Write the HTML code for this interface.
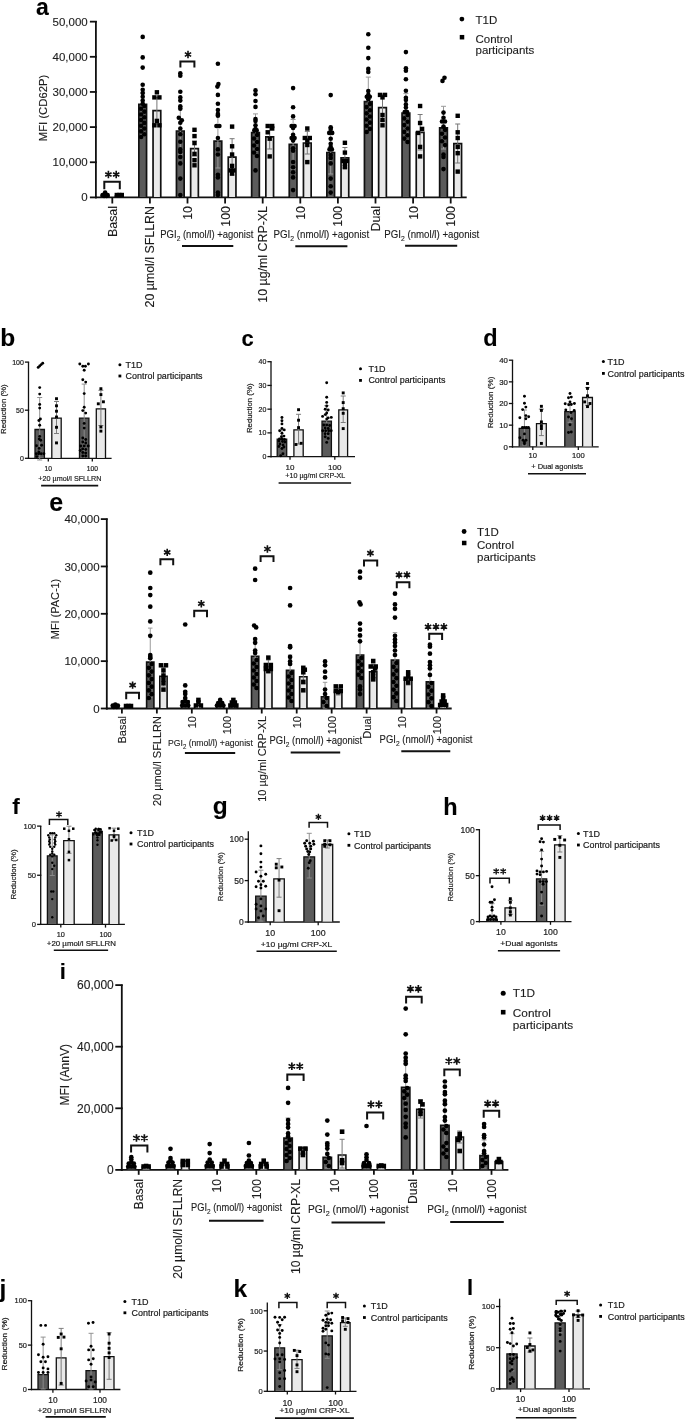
<!DOCTYPE html>
<html><head><meta charset="utf-8"><style>
html,body{margin:0;padding:0;background:#fff;}
svg{display:block;font-family:"Liberation Sans",sans-serif;filter:grayscale(1);}
text{stroke:#1c1c1c;stroke-width:0.12px;}
text.s{stroke-width:0.2px;}
</style></head><body>
<svg width="685" height="1419" viewBox="0 0 685 1419">
<rect width="685" height="1419" fill="#fff"/>
<text x="36" y="14.8" font-size="23" font-weight="bold" fill="#000">a</text>
<line x1="95.9" y1="21" x2="95.9" y2="198.3" stroke="#111" stroke-width="1.8"/>
<line x1="95" y1="197.4" x2="466.7" y2="197.4" stroke="#111" stroke-width="1.8"/>
<line x1="89.9" y1="197.4" x2="96.8" y2="197.4" stroke="#111" stroke-width="1.8"/>
<text x="87.7" y="201.48" font-size="11.5" text-anchor="end" fill="#1c1c1c">0</text>
<line x1="89.9" y1="162.25" x2="96.8" y2="162.25" stroke="#111" stroke-width="1.8"/>
<text x="87.7" y="166.33" font-size="11.5" text-anchor="end" fill="#1c1c1c">10,000</text>
<line x1="89.9" y1="127.1" x2="96.8" y2="127.1" stroke="#111" stroke-width="1.8"/>
<text x="87.7" y="131.18" font-size="11.5" text-anchor="end" fill="#1c1c1c">20,000</text>
<line x1="89.9" y1="91.95" x2="96.8" y2="91.95" stroke="#111" stroke-width="1.8"/>
<text x="87.7" y="96.03" font-size="11.5" text-anchor="end" fill="#1c1c1c">30,000</text>
<line x1="89.9" y1="56.8" x2="96.8" y2="56.8" stroke="#111" stroke-width="1.8"/>
<text x="87.7" y="60.88" font-size="11.5" text-anchor="end" fill="#1c1c1c">40,000</text>
<line x1="89.9" y1="21.65" x2="96.8" y2="21.65" stroke="#111" stroke-width="1.8"/>
<text x="87.7" y="25.73" font-size="11.5" text-anchor="end" fill="#1c1c1c">50,000</text>
<text transform="translate(47.2,108) rotate(-90)" font-size="11.5" text-anchor="middle" textLength="66.5" lengthAdjust="spacingAndGlyphs" fill="#1c1c1c">MFI (CD62P)</text>
<line x1="112.3" y1="197.4" x2="112.3" y2="203.5" stroke="#111" stroke-width="1.8"/>
<line x1="149.9" y1="197.4" x2="149.9" y2="203.5" stroke="#111" stroke-width="1.8"/>
<line x1="187.5" y1="197.4" x2="187.5" y2="203.5" stroke="#111" stroke-width="1.8"/>
<line x1="225.1" y1="197.4" x2="225.1" y2="203.5" stroke="#111" stroke-width="1.8"/>
<line x1="262.7" y1="197.4" x2="262.7" y2="203.5" stroke="#111" stroke-width="1.8"/>
<line x1="300.3" y1="197.4" x2="300.3" y2="203.5" stroke="#111" stroke-width="1.8"/>
<line x1="337.9" y1="197.4" x2="337.9" y2="203.5" stroke="#111" stroke-width="1.8"/>
<line x1="375.5" y1="197.4" x2="375.5" y2="203.5" stroke="#111" stroke-width="1.8"/>
<line x1="413.1" y1="197.4" x2="413.1" y2="203.5" stroke="#111" stroke-width="1.8"/>
<line x1="450.7" y1="197.4" x2="450.7" y2="203.5" stroke="#111" stroke-width="1.8"/>
<rect x="101.25" y="195.5" width="7.7" height="1.45" fill="#5b5b5b"/>
<path d="M101.25 197.1V195.5H108.95V197.1" fill="none" stroke="#111" stroke-width="1.7"/>
<rect x="115.45" y="196" width="7.7" height="0.95" fill="#e9e9e9"/>
<path d="M115.45 197.1V196H123.15V197.1" fill="none" stroke="#111" stroke-width="1.7"/>
<rect x="138.85" y="104.4" width="7.7" height="92.55" fill="#5b5b5b"/>
<path d="M138.85 197.1V104.4H146.55V197.1" fill="none" stroke="#111" stroke-width="1.7"/>
<rect x="153.05" y="110.6" width="7.7" height="86.35" fill="#e9e9e9"/>
<path d="M153.05 197.1V110.6H160.75V197.1" fill="none" stroke="#111" stroke-width="1.7"/>
<rect x="176.45" y="131" width="7.7" height="65.95" fill="#5b5b5b"/>
<path d="M176.45 197.1V131H184.15V197.1" fill="none" stroke="#111" stroke-width="1.7"/>
<rect x="190.65" y="148.7" width="7.7" height="48.25" fill="#e9e9e9"/>
<path d="M190.65 197.1V148.7H198.35V197.1" fill="none" stroke="#111" stroke-width="1.7"/>
<rect x="214.05" y="141.2" width="7.7" height="55.75" fill="#5b5b5b"/>
<path d="M214.05 197.1V141.2H221.75V197.1" fill="none" stroke="#111" stroke-width="1.7"/>
<rect x="228.25" y="157.1" width="7.7" height="39.85" fill="#e9e9e9"/>
<path d="M228.25 197.1V157.1H235.95V197.1" fill="none" stroke="#111" stroke-width="1.7"/>
<rect x="251.65" y="132.6" width="7.7" height="64.35" fill="#5b5b5b"/>
<path d="M251.65 197.1V132.6H259.35V197.1" fill="none" stroke="#111" stroke-width="1.7"/>
<rect x="265.85" y="136.8" width="7.7" height="60.15" fill="#e9e9e9"/>
<path d="M265.85 197.1V136.8H273.55V197.1" fill="none" stroke="#111" stroke-width="1.7"/>
<rect x="289.25" y="144.3" width="7.7" height="52.65" fill="#5b5b5b"/>
<path d="M289.25 197.1V144.3H296.95V197.1" fill="none" stroke="#111" stroke-width="1.7"/>
<rect x="303.45" y="143" width="7.7" height="53.95" fill="#e9e9e9"/>
<path d="M303.45 197.1V143H311.15V197.1" fill="none" stroke="#111" stroke-width="1.7"/>
<rect x="326.85" y="152.5" width="7.7" height="44.45" fill="#5b5b5b"/>
<path d="M326.85 197.1V152.5H334.55V197.1" fill="none" stroke="#111" stroke-width="1.7"/>
<rect x="341.05" y="157.8" width="7.7" height="39.15" fill="#e9e9e9"/>
<path d="M341.05 197.1V157.8H348.75V197.1" fill="none" stroke="#111" stroke-width="1.7"/>
<rect x="364.45" y="101.7" width="7.7" height="95.25" fill="#5b5b5b"/>
<path d="M364.45 197.1V101.7H372.15V197.1" fill="none" stroke="#111" stroke-width="1.7"/>
<rect x="378.65" y="107.6" width="7.7" height="89.35" fill="#e9e9e9"/>
<path d="M378.65 197.1V107.6H386.35V197.1" fill="none" stroke="#111" stroke-width="1.7"/>
<rect x="402.05" y="113.2" width="7.7" height="83.75" fill="#5b5b5b"/>
<path d="M402.05 197.1V113.2H409.75V197.1" fill="none" stroke="#111" stroke-width="1.7"/>
<rect x="416.25" y="132.4" width="7.7" height="64.55" fill="#e9e9e9"/>
<path d="M416.25 197.1V132.4H423.95V197.1" fill="none" stroke="#111" stroke-width="1.7"/>
<rect x="439.65" y="127.9" width="7.7" height="69.05" fill="#5b5b5b"/>
<path d="M439.65 197.1V127.9H447.35V197.1" fill="none" stroke="#111" stroke-width="1.7"/>
<rect x="453.85" y="143.6" width="7.7" height="53.35" fill="#e9e9e9"/>
<path d="M453.85 197.1V143.6H461.55V197.1" fill="none" stroke="#111" stroke-width="1.7"/>
<path d="M142.7 116V93M140.2 93H145.2M140.2 116H145.2" stroke="#9a9a9a" stroke-width="1" fill="none"/>
<path d="M156.9 124V97.4M154.4 97.4H159.4M154.4 124H159.4" stroke="#777777" stroke-width="1" fill="none"/>
<path d="M180.3 154V108M177.8 108H182.8M177.8 154H182.8" stroke="#9a9a9a" stroke-width="1" fill="none"/>
<path d="M194.5 156V141M192 141H197M192 156H197" stroke="#777777" stroke-width="1" fill="none"/>
<path d="M217.9 168V115M215.4 115H220.4M215.4 168H220.4" stroke="#9a9a9a" stroke-width="1" fill="none"/>
<path d="M232.1 175V138.7M229.6 138.7H234.6M229.6 175H234.6" stroke="#777777" stroke-width="1" fill="none"/>
<path d="M255.5 151V113.9M253 113.9H258M253 151H258" stroke="#9a9a9a" stroke-width="1" fill="none"/>
<path d="M269.7 149V124.7M267.2 124.7H272.2M267.2 149H272.2" stroke="#777777" stroke-width="1" fill="none"/>
<path d="M293.1 169V119.5M290.6 119.5H295.6M290.6 169H295.6" stroke="#9a9a9a" stroke-width="1" fill="none"/>
<path d="M307.3 154V131.4M304.8 131.4H309.8M304.8 154H309.8" stroke="#777777" stroke-width="1" fill="none"/>
<path d="M330.7 174V131M328.2 131H333.2M328.2 174H333.2" stroke="#9a9a9a" stroke-width="1" fill="none"/>
<path d="M344.9 168V147.5M342.4 147.5H347.4M342.4 168H347.4" stroke="#777777" stroke-width="1" fill="none"/>
<path d="M368.3 126V77.1M365.8 77.1H370.8M365.8 126H370.8" stroke="#9a9a9a" stroke-width="1" fill="none"/>
<path d="M382.5 121V94M380 94H385M380 121H385" stroke="#777777" stroke-width="1" fill="none"/>
<path d="M405.9 133V93.6M403.4 93.6H408.4M403.4 133H408.4" stroke="#9a9a9a" stroke-width="1" fill="none"/>
<path d="M420.1 150V114.5M417.6 114.5H422.6M417.6 150H422.6" stroke="#777777" stroke-width="1" fill="none"/>
<path d="M443.5 149V106.3M441 106.3H446M441 149H446" stroke="#9a9a9a" stroke-width="1" fill="none"/>
<path d="M457.7 163V124M455.2 124H460.2M455.2 163H460.2" stroke="#777777" stroke-width="1" fill="none"/>
<circle cx="102.6" cy="195" r="2.3"/>
<circle cx="105.1" cy="194" r="2.3"/>
<circle cx="107.6" cy="195" r="2.3"/>
<circle cx="105.1" cy="192.5" r="2.3"/>
<circle cx="104.1" cy="196" r="2.3"/>
<circle cx="106.6" cy="196" r="2.3"/>
<rect x="114.6" y="192.8" width="4.4" height="4.4"/>
<rect x="117.1" y="192.8" width="4.4" height="4.4"/>
<rect x="119.6" y="192.8" width="4.4" height="4.4"/>
<circle cx="142.7" cy="36.9" r="2.3"/>
<circle cx="142.7" cy="57.4" r="2.3"/>
<circle cx="142.7" cy="67.6" r="2.3"/>
<circle cx="142.7" cy="84.7" r="2.3"/>
<circle cx="142.7" cy="89.8" r="2.3"/>
<circle cx="142.7" cy="93" r="2.3"/>
<circle cx="142.7" cy="96.8" r="2.3"/>
<circle cx="142.7" cy="100.6" r="2.3"/>
<circle cx="142.7" cy="103.8" r="2.3"/>
<circle cx="144.3" cy="106" r="2.3"/>
<circle cx="141.1" cy="108.82" r="2.3"/>
<circle cx="144.3" cy="111.64" r="2.3"/>
<circle cx="141.1" cy="114.45" r="2.3"/>
<circle cx="144.3" cy="117.27" r="2.3"/>
<circle cx="141.1" cy="120.09" r="2.3"/>
<circle cx="144.3" cy="122.91" r="2.3"/>
<circle cx="141.1" cy="125.73" r="2.3"/>
<circle cx="144.3" cy="128.55" r="2.3"/>
<circle cx="141.1" cy="131.36" r="2.3"/>
<circle cx="144.3" cy="134.18" r="2.3"/>
<circle cx="141.1" cy="137" r="2.3"/>
<rect x="154.7" y="90.1" width="4.4" height="4.4"/>
<rect x="152.2" y="95.2" width="4.4" height="4.4"/>
<rect x="157.2" y="95.2" width="4.4" height="4.4"/>
<rect x="154.7" y="118.7" width="4.4" height="4.4"/>
<rect x="152.2" y="123.1" width="4.4" height="4.4"/>
<rect x="157.2" y="123.1" width="4.4" height="4.4"/>
<circle cx="180.3" cy="73.3" r="2.3"/>
<circle cx="180.3" cy="75.8" r="2.3"/>
<circle cx="180.3" cy="91.7" r="2.3"/>
<circle cx="180.3" cy="97.4" r="2.3"/>
<circle cx="180.3" cy="100.6" r="2.3"/>
<circle cx="180.3" cy="106.3" r="2.3"/>
<circle cx="180.3" cy="108.8" r="2.3"/>
<circle cx="178.8" cy="117.7" r="2.3"/>
<circle cx="181.8" cy="120.3" r="2.3"/>
<circle cx="180.3" cy="122.8" r="2.3"/>
<circle cx="180.3" cy="128.5" r="2.3"/>
<circle cx="180.3" cy="134.2" r="2.3"/>
<circle cx="180.3" cy="141.8" r="2.3"/>
<circle cx="180.3" cy="149.4" r="2.3"/>
<circle cx="180.3" cy="152" r="2.3"/>
<circle cx="180.3" cy="157" r="2.3"/>
<circle cx="180.3" cy="163.4" r="2.3"/>
<circle cx="180.3" cy="178.6" r="2.3"/>
<circle cx="180.3" cy="195.1" r="2.3"/>
<rect x="192.3" y="127.6" width="4.4" height="4.4"/>
<rect x="192.3" y="133.9" width="4.4" height="4.4"/>
<rect x="192.3" y="140.9" width="4.4" height="4.4"/>
<rect x="192.3" y="151.7" width="4.4" height="4.4"/>
<rect x="192.3" y="158" width="4.4" height="4.4"/>
<rect x="192.3" y="163.1" width="4.4" height="4.4"/>
<circle cx="217.9" cy="63.8" r="2.3"/>
<circle cx="218.4" cy="84.1" r="2.3"/>
<circle cx="217.4" cy="86.6" r="2.3"/>
<circle cx="217.9" cy="94.9" r="2.3"/>
<circle cx="217.9" cy="103.8" r="2.3"/>
<circle cx="217.9" cy="110.1" r="2.3"/>
<circle cx="217.9" cy="113.9" r="2.3"/>
<circle cx="217.9" cy="115.8" r="2.3"/>
<circle cx="216.4" cy="126" r="2.3"/>
<circle cx="219.4" cy="126" r="2.3"/>
<circle cx="217.9" cy="138" r="2.3"/>
<circle cx="217.9" cy="149.4" r="2.3"/>
<circle cx="217.9" cy="154.5" r="2.3"/>
<circle cx="217.9" cy="174.8" r="2.3"/>
<circle cx="217.9" cy="177.4" r="2.3"/>
<circle cx="217.9" cy="192.6" r="2.3"/>
<circle cx="217.9" cy="195.1" r="2.3"/>
<rect x="229.9" y="124.4" width="4.4" height="4.4"/>
<rect x="229.9" y="144.1" width="4.4" height="4.4"/>
<rect x="229.9" y="152.3" width="4.4" height="4.4"/>
<rect x="229.9" y="163.7" width="4.4" height="4.4"/>
<rect x="228.4" y="168.2" width="4.4" height="4.4"/>
<rect x="231.4" y="168.2" width="4.4" height="4.4"/>
<rect x="229.9" y="171.4" width="4.4" height="4.4"/>
<circle cx="255.5" cy="90.4" r="2.3"/>
<circle cx="255.5" cy="94.2" r="2.3"/>
<circle cx="255.5" cy="101" r="2.3"/>
<circle cx="255.5" cy="106.9" r="2.3"/>
<circle cx="255.5" cy="119" r="2.3"/>
<circle cx="255.5" cy="120.9" r="2.3"/>
<circle cx="255.5" cy="125.3" r="2.3"/>
<circle cx="255.5" cy="129.1" r="2.3"/>
<circle cx="254.3" cy="130.4" r="2.3"/>
<circle cx="256.7" cy="130.4" r="2.3"/>
<circle cx="257" cy="135" r="2.3"/>
<circle cx="254" cy="138.5" r="2.3"/>
<circle cx="257" cy="142" r="2.3"/>
<circle cx="254" cy="145.5" r="2.3"/>
<circle cx="257" cy="149" r="2.3"/>
<circle cx="254" cy="152.5" r="2.3"/>
<circle cx="257" cy="156" r="2.3"/>
<circle cx="255.5" cy="170.4" r="2.3"/>
<rect x="265.5" y="123.8" width="4.4" height="4.4"/>
<rect x="270" y="123.8" width="4.4" height="4.4"/>
<rect x="270" y="126.3" width="4.4" height="4.4"/>
<rect x="265.5" y="130.1" width="4.4" height="4.4"/>
<rect x="267.5" y="136.5" width="4.4" height="4.4"/>
<rect x="267.5" y="154.2" width="4.4" height="4.4"/>
<circle cx="293.1" cy="88.1" r="2.3"/>
<circle cx="293.1" cy="107.2" r="2.3"/>
<circle cx="293.1" cy="116.4" r="2.3"/>
<circle cx="291.6" cy="126" r="2.3"/>
<circle cx="294.6" cy="126" r="2.3"/>
<circle cx="293.1" cy="127.9" r="2.3"/>
<circle cx="293.1" cy="134.8" r="2.3"/>
<circle cx="291.6" cy="138" r="2.3"/>
<circle cx="294.6" cy="138" r="2.3"/>
<circle cx="293.1" cy="140.6" r="2.3"/>
<circle cx="293.1" cy="148.2" r="2.3"/>
<circle cx="293.1" cy="150.7" r="2.3"/>
<circle cx="293.1" cy="162.1" r="2.3"/>
<circle cx="293.1" cy="167.2" r="2.3"/>
<circle cx="293.1" cy="172.3" r="2.3"/>
<circle cx="293.1" cy="177.4" r="2.3"/>
<circle cx="293.1" cy="190.1" r="2.3"/>
<rect x="305.1" y="126.3" width="4.4" height="4.4"/>
<rect x="302.6" y="135.8" width="4.4" height="4.4"/>
<rect x="307.6" y="135.8" width="4.4" height="4.4"/>
<rect x="305.1" y="138.4" width="4.4" height="4.4"/>
<rect x="305.1" y="142.8" width="4.4" height="4.4"/>
<rect x="305.1" y="159.9" width="4.4" height="4.4"/>
<circle cx="330.7" cy="95.1" r="2.3"/>
<circle cx="330.7" cy="127.2" r="2.3"/>
<circle cx="330.7" cy="128.9" r="2.3"/>
<circle cx="329.2" cy="132.9" r="2.3"/>
<circle cx="332.2" cy="132.9" r="2.3"/>
<circle cx="330.7" cy="138.7" r="2.3"/>
<circle cx="330.7" cy="143.7" r="2.3"/>
<circle cx="330.7" cy="146.9" r="2.3"/>
<circle cx="329.5" cy="149.4" r="2.3"/>
<circle cx="331.9" cy="149.4" r="2.3"/>
<circle cx="330.7" cy="155" r="2.3"/>
<circle cx="330.7" cy="158" r="2.3"/>
<circle cx="330.7" cy="163.4" r="2.3"/>
<circle cx="330.7" cy="178.6" r="2.3"/>
<circle cx="330.7" cy="186.2" r="2.3"/>
<circle cx="330.7" cy="192.6" r="2.3"/>
<rect x="342.7" y="140.6" width="4.4" height="4.4"/>
<rect x="342.7" y="150.4" width="4.4" height="4.4"/>
<rect x="341.2" y="158.7" width="4.4" height="4.4"/>
<rect x="344.7" y="158.7" width="4.4" height="4.4"/>
<rect x="342.7" y="161.8" width="4.4" height="4.4"/>
<rect x="342.7" y="165" width="4.4" height="4.4"/>
<circle cx="368.3" cy="34.3" r="2.3"/>
<circle cx="368.3" cy="47.7" r="2.3"/>
<circle cx="368.3" cy="58.1" r="2.3"/>
<circle cx="368.3" cy="68.9" r="2.3"/>
<circle cx="368.3" cy="72" r="2.3"/>
<circle cx="368.3" cy="91.1" r="2.3"/>
<circle cx="368.3" cy="94.9" r="2.3"/>
<circle cx="366.8" cy="96.8" r="2.3"/>
<circle cx="369.8" cy="96.8" r="2.3"/>
<circle cx="368.3" cy="99.3" r="2.3"/>
<circle cx="369.9" cy="104" r="2.3"/>
<circle cx="366.7" cy="107.11" r="2.3"/>
<circle cx="369.9" cy="110.22" r="2.3"/>
<circle cx="366.7" cy="113.33" r="2.3"/>
<circle cx="369.9" cy="116.44" r="2.3"/>
<circle cx="366.7" cy="119.56" r="2.3"/>
<circle cx="369.9" cy="122.67" r="2.3"/>
<circle cx="366.7" cy="125.78" r="2.3"/>
<circle cx="369.9" cy="128.89" r="2.3"/>
<circle cx="366.7" cy="132" r="2.3"/>
<rect x="377.8" y="92.7" width="4.4" height="4.4"/>
<rect x="382.8" y="92.7" width="4.4" height="4.4"/>
<rect x="380.3" y="95.2" width="4.4" height="4.4"/>
<rect x="380.3" y="112.8" width="4.4" height="4.4"/>
<rect x="380.3" y="117.8" width="4.4" height="4.4"/>
<rect x="380.3" y="123.1" width="4.4" height="4.4"/>
<circle cx="405.9" cy="52.1" r="2.3"/>
<circle cx="405.9" cy="68.2" r="2.3"/>
<circle cx="405.9" cy="70.8" r="2.3"/>
<circle cx="405.9" cy="79.3" r="2.3"/>
<circle cx="405.9" cy="90.7" r="2.3"/>
<circle cx="405.9" cy="97.7" r="2.3"/>
<circle cx="405.9" cy="99.9" r="2.3"/>
<circle cx="405.9" cy="104.4" r="2.3"/>
<circle cx="405.9" cy="107.6" r="2.3"/>
<circle cx="404.7" cy="112" r="2.3"/>
<circle cx="407.1" cy="112" r="2.3"/>
<circle cx="407.5" cy="115" r="2.3"/>
<circle cx="404.3" cy="118.38" r="2.3"/>
<circle cx="407.5" cy="121.75" r="2.3"/>
<circle cx="404.3" cy="125.12" r="2.3"/>
<circle cx="407.5" cy="128.5" r="2.3"/>
<circle cx="404.3" cy="131.88" r="2.3"/>
<circle cx="407.5" cy="135.25" r="2.3"/>
<circle cx="404.3" cy="138.62" r="2.3"/>
<circle cx="407.5" cy="142" r="2.3"/>
<rect x="417.9" y="103.8" width="4.4" height="4.4"/>
<rect x="417.9" y="120.8" width="4.4" height="4.4"/>
<rect x="419.9" y="126.7" width="4.4" height="4.4"/>
<rect x="415.9" y="130.7" width="4.4" height="4.4"/>
<rect x="417.9" y="144.7" width="4.4" height="4.4"/>
<rect x="417.9" y="154.2" width="4.4" height="4.4"/>
<circle cx="444.5" cy="77.7" r="2.3"/>
<circle cx="442.5" cy="80.9" r="2.3"/>
<circle cx="443.5" cy="112.6" r="2.3"/>
<circle cx="443.5" cy="117.7" r="2.3"/>
<circle cx="442" cy="121.5" r="2.3"/>
<circle cx="445" cy="121.5" r="2.3"/>
<circle cx="443.5" cy="126.6" r="2.3"/>
<circle cx="445" cy="130" r="2.3"/>
<circle cx="442" cy="133.75" r="2.3"/>
<circle cx="445" cy="137.5" r="2.3"/>
<circle cx="442" cy="141.25" r="2.3"/>
<circle cx="445" cy="145" r="2.3"/>
<circle cx="443.5" cy="154.5" r="2.3"/>
<circle cx="443.5" cy="157" r="2.3"/>
<circle cx="443.5" cy="169.1" r="2.3"/>
<rect x="455.5" y="113.6" width="4.4" height="4.4"/>
<rect x="455.5" y="130.1" width="4.4" height="4.4"/>
<rect x="455.5" y="135.8" width="4.4" height="4.4"/>
<rect x="455.5" y="144.7" width="4.4" height="4.4"/>
<rect x="455.5" y="151" width="4.4" height="4.4"/>
<rect x="455.5" y="169.4" width="4.4" height="4.4"/>
<path d="M104.3 189.2V181.7H119.8V189.2" stroke="#111" stroke-width="2" fill="none"/>
<path d="M108.4 170.85L108.4 178.15M105.24 172.68L111.56 176.32M111.56 172.68L105.24 176.32M116.2 170.85L116.2 178.15M113.04 172.68L119.36 176.32M119.36 172.68L113.04 176.32" stroke="#111" stroke-width="1.61" fill="none"/>
<path d="M180.4 67.6V61.4H194.4V67.6" stroke="#111" stroke-width="2" fill="none"/>
<path d="M188 50.85L188 58.15M184.84 52.67L191.16 56.33M191.16 52.67L184.84 56.33" stroke="#111" stroke-width="1.61" fill="none"/>
<text transform="translate(116.76,206) rotate(-90)" font-size="12.4" text-anchor="end" fill="#1c1c1c">Basal</text>
<text transform="translate(154.36,206) rotate(-90)" font-size="12.4" text-anchor="end" fill="#1c1c1c">20 µmol/l SFLLRN</text>
<text transform="translate(191.96,206) rotate(-90)" font-size="12.4" text-anchor="end" fill="#1c1c1c">10</text>
<text transform="translate(229.56,206) rotate(-90)" font-size="12.4" text-anchor="end" fill="#1c1c1c">100</text>
<text transform="translate(267.16,206) rotate(-90)" font-size="12.4" text-anchor="end" fill="#1c1c1c">10 µg/ml CRP-XL</text>
<text transform="translate(304.76,206) rotate(-90)" font-size="12.4" text-anchor="end" fill="#1c1c1c">10</text>
<text transform="translate(342.36,206) rotate(-90)" font-size="12.4" text-anchor="end" fill="#1c1c1c">100</text>
<text transform="translate(379.96,206) rotate(-90)" font-size="12.4" text-anchor="end" fill="#1c1c1c">Dual</text>
<text transform="translate(417.56,206) rotate(-90)" font-size="12.4" text-anchor="end" fill="#1c1c1c">10</text>
<text transform="translate(455.16,206) rotate(-90)" font-size="12.4" text-anchor="end" fill="#1c1c1c">100</text>
<text x="160.3" y="237.6" font-size="10.5" fill="#1c1c1c" textLength="93" lengthAdjust="spacingAndGlyphs">PGI<tspan font-size="7.35" dy="2.94">2</tspan><tspan dy="-2.94"> (nmol/l) +agonist</tspan></text>
<line x1="182" y1="246" x2="233.3" y2="246" stroke="#111" stroke-width="2"/>
<text x="273.5" y="237.6" font-size="10.5" fill="#1c1c1c" textLength="95.7" lengthAdjust="spacingAndGlyphs">PGI<tspan font-size="7.35" dy="2.94">2</tspan><tspan dy="-2.94"> (nmol/l) +agonist</tspan></text>
<line x1="295.3" y1="246.2" x2="347.4" y2="246.2" stroke="#111" stroke-width="2"/>
<text x="384.3" y="237.6" font-size="10.5" fill="#1c1c1c" textLength="95" lengthAdjust="spacingAndGlyphs">PGI<tspan font-size="7.35" dy="2.94">2</tspan><tspan dy="-2.94"> (nmol/l) +agonist</tspan></text>
<line x1="405.1" y1="245.8" x2="457.2" y2="245.8" stroke="#111" stroke-width="2"/>
<circle cx="461.9" cy="19.1" r="2.4"/>
<text x="475.5" y="24" font-size="11.5" fill="#1c1c1c">T1D</text>
<rect x="459.75" y="34.95" width="4.5" height="4.5"/>
<text x="475.5" y="42.7" font-size="11.5" fill="#1c1c1c">Control</text>
<text x="475.5" y="54" font-size="11.5" fill="#1c1c1c">participants</text>
<text x="49.2" y="511.3" font-size="25" font-weight="bold" fill="#000">e</text>
<line x1="106.8" y1="518.5" x2="106.8" y2="709.4" stroke="#111" stroke-width="1.8"/>
<line x1="105.9" y1="708.5" x2="451.7" y2="708.5" stroke="#111" stroke-width="1.8"/>
<line x1="100.8" y1="708.5" x2="107.7" y2="708.5" stroke="#111" stroke-width="1.8"/>
<text x="99.6" y="712.58" font-size="11.5" text-anchor="end" fill="#1c1c1c">0</text>
<line x1="100.8" y1="661.15" x2="107.7" y2="661.15" stroke="#111" stroke-width="1.8"/>
<text x="99.6" y="665.23" font-size="11.5" text-anchor="end" fill="#1c1c1c">10,000</text>
<line x1="100.8" y1="613.8" x2="107.7" y2="613.8" stroke="#111" stroke-width="1.8"/>
<text x="99.6" y="617.88" font-size="11.5" text-anchor="end" fill="#1c1c1c">20,000</text>
<line x1="100.8" y1="566.45" x2="107.7" y2="566.45" stroke="#111" stroke-width="1.8"/>
<text x="99.6" y="570.53" font-size="11.5" text-anchor="end" fill="#1c1c1c">30,000</text>
<line x1="100.8" y1="519.1" x2="107.7" y2="519.1" stroke="#111" stroke-width="1.8"/>
<text x="99.6" y="523.18" font-size="11.5" text-anchor="end" fill="#1c1c1c">40,000</text>
<text transform="translate(59.2,609) rotate(-90)" font-size="11.5" text-anchor="middle" textLength="60.4" lengthAdjust="spacingAndGlyphs" fill="#1c1c1c">MFI (PAC-1)</text>
<line x1="121.9" y1="708.5" x2="121.9" y2="713.5" stroke="#111" stroke-width="1.8"/>
<line x1="156.86" y1="708.5" x2="156.86" y2="713.5" stroke="#111" stroke-width="1.8"/>
<line x1="191.82" y1="708.5" x2="191.82" y2="713.5" stroke="#111" stroke-width="1.8"/>
<line x1="226.78" y1="708.5" x2="226.78" y2="713.5" stroke="#111" stroke-width="1.8"/>
<line x1="261.74" y1="708.5" x2="261.74" y2="713.5" stroke="#111" stroke-width="1.8"/>
<line x1="296.7" y1="708.5" x2="296.7" y2="713.5" stroke="#111" stroke-width="1.8"/>
<line x1="331.66" y1="708.5" x2="331.66" y2="713.5" stroke="#111" stroke-width="1.8"/>
<line x1="366.62" y1="708.5" x2="366.62" y2="713.5" stroke="#111" stroke-width="1.8"/>
<line x1="401.58" y1="708.5" x2="401.58" y2="713.5" stroke="#111" stroke-width="1.8"/>
<line x1="436.54" y1="708.5" x2="436.54" y2="713.5" stroke="#111" stroke-width="1.8"/>
<rect x="111.65" y="706.5" width="7.3" height="1.55" fill="#5b5b5b"/>
<path d="M111.65 708.2V706.5H118.95V708.2" fill="none" stroke="#111" stroke-width="1.6"/>
<rect x="124.85" y="707" width="7.3" height="1.05" fill="#e9e9e9"/>
<path d="M124.85 708.2V707H132.15V708.2" fill="none" stroke="#111" stroke-width="1.6"/>
<rect x="146.61" y="662.1" width="7.3" height="45.95" fill="#5b5b5b"/>
<path d="M146.61 708.2V662.1H153.91V708.2" fill="none" stroke="#111" stroke-width="1.6"/>
<rect x="159.81" y="676.2" width="7.3" height="31.85" fill="#e9e9e9"/>
<path d="M159.81 708.2V676.2H167.11V708.2" fill="none" stroke="#111" stroke-width="1.6"/>
<rect x="181.57" y="701" width="7.3" height="7.05" fill="#5b5b5b"/>
<path d="M181.57 708.2V701H188.87V708.2" fill="none" stroke="#111" stroke-width="1.6"/>
<rect x="194.77" y="705.5" width="7.3" height="2.55" fill="#e9e9e9"/>
<path d="M194.77 708.2V705.5H202.07V708.2" fill="none" stroke="#111" stroke-width="1.6"/>
<rect x="216.53" y="706" width="7.3" height="2.05" fill="#5b5b5b"/>
<path d="M216.53 708.2V706H223.83V708.2" fill="none" stroke="#111" stroke-width="1.6"/>
<rect x="229.73" y="706.5" width="7.3" height="1.55" fill="#e9e9e9"/>
<path d="M229.73 708.2V706.5H237.03V708.2" fill="none" stroke="#111" stroke-width="1.6"/>
<rect x="251.49" y="656.3" width="7.3" height="51.75" fill="#5b5b5b"/>
<path d="M251.49 708.2V656.3H258.79V708.2" fill="none" stroke="#111" stroke-width="1.6"/>
<rect x="264.69" y="666.5" width="7.3" height="41.55" fill="#e9e9e9"/>
<path d="M264.69 708.2V666.5H271.99V708.2" fill="none" stroke="#111" stroke-width="1.6"/>
<rect x="286.45" y="670.4" width="7.3" height="37.65" fill="#5b5b5b"/>
<path d="M286.45 708.2V670.4H293.75V708.2" fill="none" stroke="#111" stroke-width="1.6"/>
<rect x="299.65" y="676.8" width="7.3" height="31.25" fill="#e9e9e9"/>
<path d="M299.65 708.2V676.8H306.95V708.2" fill="none" stroke="#111" stroke-width="1.6"/>
<rect x="321.41" y="696.7" width="7.3" height="11.35" fill="#5b5b5b"/>
<path d="M321.41 708.2V696.7H328.71V708.2" fill="none" stroke="#111" stroke-width="1.6"/>
<rect x="334.61" y="691.3" width="7.3" height="16.75" fill="#e9e9e9"/>
<path d="M334.61 708.2V691.3H341.91V708.2" fill="none" stroke="#111" stroke-width="1.6"/>
<rect x="356.37" y="655" width="7.3" height="53.05" fill="#5b5b5b"/>
<path d="M356.37 708.2V655H363.67V708.2" fill="none" stroke="#111" stroke-width="1.6"/>
<rect x="369.57" y="671.7" width="7.3" height="36.35" fill="#e9e9e9"/>
<path d="M369.57 708.2V671.7H376.87V708.2" fill="none" stroke="#111" stroke-width="1.6"/>
<rect x="391.33" y="660.1" width="7.3" height="47.95" fill="#5b5b5b"/>
<path d="M391.33 708.2V660.1H398.63V708.2" fill="none" stroke="#111" stroke-width="1.6"/>
<rect x="404.53" y="678.7" width="7.3" height="29.35" fill="#e9e9e9"/>
<path d="M404.53 708.2V678.7H411.83V708.2" fill="none" stroke="#111" stroke-width="1.6"/>
<rect x="426.29" y="681.9" width="7.3" height="26.15" fill="#5b5b5b"/>
<path d="M426.29 708.2V681.9H433.59V708.2" fill="none" stroke="#111" stroke-width="1.6"/>
<rect x="439.49" y="704.4" width="7.3" height="3.65" fill="#e9e9e9"/>
<path d="M439.49 708.2V704.4H446.79V708.2" fill="none" stroke="#111" stroke-width="1.6"/>
<path d="M150.26 697V628.1M148.01 628.1H152.51M148.01 697H152.51" stroke="#9a9a9a" stroke-width="1" fill="none"/>
<path d="M163.46 686V667M161.21 667H165.71M161.21 686H165.71" stroke="#777777" stroke-width="1" fill="none"/>
<path d="M255.14 672V641M252.89 641H257.39M252.89 672H257.39" stroke="#9a9a9a" stroke-width="1" fill="none"/>
<path d="M268.34 673V660M266.09 660H270.59M266.09 673H270.59" stroke="#777777" stroke-width="1" fill="none"/>
<path d="M290.1 686V655M287.85 655H292.35M287.85 686H292.35" stroke="#9a9a9a" stroke-width="1" fill="none"/>
<path d="M303.3 684V670M301.05 670H305.55M301.05 684H305.55" stroke="#777777" stroke-width="1" fill="none"/>
<path d="M325.06 708V682.3M322.81 682.3H327.31M322.81 708H327.31" stroke="#9a9a9a" stroke-width="1" fill="none"/>
<path d="M338.26 695V688M336.01 688H340.51M336.01 695H340.51" stroke="#777777" stroke-width="1" fill="none"/>
<path d="M360.02 673V637M357.77 637H362.27M357.77 673H362.27" stroke="#9a9a9a" stroke-width="1" fill="none"/>
<path d="M373.22 680V664M370.97 664H375.47M370.97 680H375.47" stroke="#777777" stroke-width="1" fill="none"/>
<path d="M394.98 688V632.6M392.73 632.6H397.23M392.73 688H397.23" stroke="#9a9a9a" stroke-width="1" fill="none"/>
<path d="M408.18 685V673M405.93 673H410.43M405.93 685H410.43" stroke="#777777" stroke-width="1" fill="none"/>
<path d="M429.94 696V668M427.69 668H432.19M427.69 696H432.19" stroke="#9a9a9a" stroke-width="1" fill="none"/>
<circle cx="112.8" cy="705.5" r="2.35"/>
<circle cx="115.3" cy="704.5" r="2.35"/>
<circle cx="117.8" cy="705.5" r="2.35"/>
<circle cx="113.8" cy="707" r="2.35"/>
<circle cx="116.8" cy="707" r="2.35"/>
<rect x="123.75" y="703.75" width="4.5" height="4.5"/>
<rect x="126.25" y="703.75" width="4.5" height="4.5"/>
<rect x="128.75" y="703.75" width="4.5" height="4.5"/>
<circle cx="150.26" cy="572.7" r="2.35"/>
<circle cx="150.26" cy="588" r="2.35"/>
<circle cx="150.26" cy="595.1" r="2.35"/>
<circle cx="150.26" cy="606.7" r="2.35"/>
<circle cx="150.26" cy="621.4" r="2.35"/>
<circle cx="150.26" cy="635.8" r="2.35"/>
<circle cx="150.26" cy="655" r="2.35"/>
<circle cx="150.26" cy="656.9" r="2.35"/>
<circle cx="150.26" cy="658.2" r="2.35"/>
<circle cx="151.66" cy="664" r="2.35"/>
<circle cx="148.86" cy="667.78" r="2.35"/>
<circle cx="151.66" cy="671.56" r="2.35"/>
<circle cx="148.86" cy="675.33" r="2.35"/>
<circle cx="151.66" cy="679.11" r="2.35"/>
<circle cx="148.86" cy="682.89" r="2.35"/>
<circle cx="151.66" cy="686.67" r="2.35"/>
<circle cx="148.86" cy="690.44" r="2.35"/>
<circle cx="151.66" cy="694.22" r="2.35"/>
<circle cx="148.86" cy="698" r="2.35"/>
<rect x="158.71" y="663.05" width="4.5" height="4.5"/>
<rect x="163.71" y="663.05" width="4.5" height="4.5"/>
<rect x="161.21" y="668.15" width="4.5" height="4.5"/>
<rect x="161.21" y="673.25" width="4.5" height="4.5"/>
<rect x="161.21" y="677.15" width="4.5" height="4.5"/>
<rect x="161.21" y="680.95" width="4.5" height="4.5"/>
<rect x="161.21" y="687.35" width="4.5" height="4.5"/>
<circle cx="185.22" cy="624.5" r="2.35"/>
<circle cx="185.22" cy="685.4" r="2.35"/>
<circle cx="185.22" cy="691.8" r="2.35"/>
<circle cx="185.22" cy="694.1" r="2.35"/>
<circle cx="185.22" cy="698" r="2.35"/>
<circle cx="182.72" cy="702" r="2.35"/>
<circle cx="187.72" cy="702" r="2.35"/>
<circle cx="185.22" cy="701" r="2.35"/>
<circle cx="182.22" cy="705.5" r="2.35"/>
<circle cx="188.22" cy="705.5" r="2.35"/>
<circle cx="185.22" cy="705.5" r="2.35"/>
<rect x="196.17" y="697.65" width="4.5" height="4.5"/>
<rect x="196.17" y="700.15" width="4.5" height="4.5"/>
<rect x="193.67" y="703.25" width="4.5" height="4.5"/>
<rect x="198.67" y="703.25" width="4.5" height="4.5"/>
<circle cx="220.18" cy="699.9" r="2.35"/>
<circle cx="218.18" cy="703" r="2.35"/>
<circle cx="222.18" cy="703" r="2.35"/>
<circle cx="216.98" cy="705.5" r="2.35"/>
<circle cx="223.38" cy="705.5" r="2.35"/>
<circle cx="220.18" cy="705.5" r="2.35"/>
<rect x="231.13" y="697.65" width="4.5" height="4.5"/>
<rect x="229.63" y="700.25" width="4.5" height="4.5"/>
<rect x="232.63" y="700.25" width="4.5" height="4.5"/>
<rect x="228.13" y="703.25" width="4.5" height="4.5"/>
<rect x="234.13" y="703.25" width="4.5" height="4.5"/>
<rect x="231.13" y="703.25" width="4.5" height="4.5"/>
<circle cx="255.14" cy="568.7" r="2.35"/>
<circle cx="255.14" cy="580" r="2.35"/>
<circle cx="254.14" cy="625.5" r="2.35"/>
<circle cx="256.14" cy="627.4" r="2.35"/>
<circle cx="255.14" cy="639" r="2.35"/>
<circle cx="255.14" cy="642.8" r="2.35"/>
<circle cx="255.14" cy="650.5" r="2.35"/>
<circle cx="255.14" cy="653.1" r="2.35"/>
<circle cx="256.54" cy="660" r="2.35"/>
<circle cx="253.74" cy="663.5" r="2.35"/>
<circle cx="256.54" cy="667" r="2.35"/>
<circle cx="253.74" cy="670.5" r="2.35"/>
<circle cx="256.54" cy="674" r="2.35"/>
<circle cx="253.74" cy="677.5" r="2.35"/>
<circle cx="256.54" cy="681" r="2.35"/>
<circle cx="253.74" cy="684.5" r="2.35"/>
<circle cx="256.54" cy="688" r="2.35"/>
<rect x="266.09" y="655.35" width="4.5" height="4.5"/>
<rect x="263.59" y="662.75" width="4.5" height="4.5"/>
<rect x="268.59" y="662.75" width="4.5" height="4.5"/>
<rect x="263.59" y="666.75" width="4.5" height="4.5"/>
<rect x="268.59" y="666.75" width="4.5" height="4.5"/>
<rect x="266.09" y="668.75" width="4.5" height="4.5"/>
<circle cx="290.1" cy="588" r="2.35"/>
<circle cx="290.1" cy="605.4" r="2.35"/>
<circle cx="290.1" cy="646" r="2.35"/>
<circle cx="290.1" cy="647.3" r="2.35"/>
<circle cx="290.1" cy="656.9" r="2.35"/>
<circle cx="290.1" cy="661.4" r="2.35"/>
<circle cx="290.1" cy="664" r="2.35"/>
<circle cx="291.5" cy="673" r="2.35"/>
<circle cx="288.7" cy="676.5" r="2.35"/>
<circle cx="291.5" cy="680" r="2.35"/>
<circle cx="288.7" cy="683.5" r="2.35"/>
<circle cx="291.5" cy="687" r="2.35"/>
<circle cx="288.7" cy="690.5" r="2.35"/>
<circle cx="291.5" cy="694" r="2.35"/>
<circle cx="288.7" cy="697.5" r="2.35"/>
<circle cx="291.5" cy="701" r="2.35"/>
<rect x="301.05" y="665.55" width="4.5" height="4.5"/>
<rect x="302.55" y="667.45" width="4.5" height="4.5"/>
<rect x="301.05" y="670.05" width="4.5" height="4.5"/>
<rect x="301.05" y="679.65" width="4.5" height="4.5"/>
<rect x="301.05" y="688.05" width="4.5" height="4.5"/>
<circle cx="325.06" cy="661.4" r="2.35"/>
<circle cx="325.06" cy="665.3" r="2.35"/>
<circle cx="325.06" cy="671.7" r="2.35"/>
<circle cx="325.06" cy="677.4" r="2.35"/>
<circle cx="325.06" cy="689.6" r="2.35"/>
<circle cx="325.06" cy="694.1" r="2.35"/>
<circle cx="326.56" cy="698" r="2.35"/>
<circle cx="323.56" cy="702" r="2.35"/>
<circle cx="326.56" cy="706" r="2.35"/>
<rect x="333.51" y="684.15" width="4.5" height="4.5"/>
<rect x="338.51" y="684.15" width="4.5" height="4.5"/>
<rect x="333.51" y="688.75" width="4.5" height="4.5"/>
<rect x="338.51" y="688.75" width="4.5" height="4.5"/>
<rect x="336.01" y="689.95" width="4.5" height="4.5"/>
<circle cx="360.02" cy="571.7" r="2.35"/>
<circle cx="360.02" cy="577.7" r="2.35"/>
<circle cx="359.52" cy="602.4" r="2.35"/>
<circle cx="360.52" cy="604.4" r="2.35"/>
<circle cx="360.02" cy="623.6" r="2.35"/>
<circle cx="360.02" cy="629.7" r="2.35"/>
<circle cx="360.02" cy="635.4" r="2.35"/>
<circle cx="360.02" cy="641.3" r="2.35"/>
<circle cx="361.42" cy="658" r="2.35"/>
<circle cx="358.62" cy="661.33" r="2.35"/>
<circle cx="361.42" cy="664.67" r="2.35"/>
<circle cx="358.62" cy="668" r="2.35"/>
<circle cx="361.42" cy="671.33" r="2.35"/>
<circle cx="358.62" cy="674.67" r="2.35"/>
<circle cx="361.42" cy="678" r="2.35"/>
<circle cx="360.02" cy="686.4" r="2.35"/>
<circle cx="360.02" cy="689.6" r="2.35"/>
<circle cx="360.02" cy="694.1" r="2.35"/>
<rect x="370.97" y="658.75" width="4.5" height="4.5"/>
<rect x="368.47" y="664.25" width="4.5" height="4.5"/>
<rect x="373.47" y="664.25" width="4.5" height="4.5"/>
<rect x="372.97" y="666.25" width="4.5" height="4.5"/>
<rect x="370.97" y="670.05" width="4.5" height="4.5"/>
<rect x="370.97" y="673.95" width="4.5" height="4.5"/>
<rect x="370.97" y="677.15" width="4.5" height="4.5"/>
<circle cx="394.98" cy="593.7" r="2.35"/>
<circle cx="394.98" cy="604.4" r="2.35"/>
<circle cx="394.98" cy="608.8" r="2.35"/>
<circle cx="394.98" cy="617.6" r="2.35"/>
<circle cx="394.98" cy="635.8" r="2.35"/>
<circle cx="394.98" cy="639.6" r="2.35"/>
<circle cx="394.98" cy="642.6" r="2.35"/>
<circle cx="394.98" cy="646" r="2.35"/>
<circle cx="394.98" cy="650.5" r="2.35"/>
<circle cx="394.98" cy="655" r="2.35"/>
<circle cx="396.38" cy="663" r="2.35"/>
<circle cx="393.58" cy="666.8" r="2.35"/>
<circle cx="396.38" cy="670.6" r="2.35"/>
<circle cx="393.58" cy="674.4" r="2.35"/>
<circle cx="396.38" cy="678.2" r="2.35"/>
<circle cx="393.58" cy="682" r="2.35"/>
<circle cx="396.38" cy="685.8" r="2.35"/>
<circle cx="393.58" cy="689.6" r="2.35"/>
<circle cx="396.38" cy="693.4" r="2.35"/>
<circle cx="393.58" cy="697.2" r="2.35"/>
<circle cx="396.38" cy="701" r="2.35"/>
<rect x="405.93" y="670.05" width="4.5" height="4.5"/>
<rect x="405.93" y="673.95" width="4.5" height="4.5"/>
<rect x="403.43" y="676.45" width="4.5" height="4.5"/>
<rect x="408.43" y="676.45" width="4.5" height="4.5"/>
<rect x="405.93" y="680.35" width="4.5" height="4.5"/>
<circle cx="429.94" cy="644.7" r="2.35"/>
<circle cx="429.94" cy="646.7" r="2.35"/>
<circle cx="429.94" cy="653.7" r="2.35"/>
<circle cx="429.94" cy="662.1" r="2.35"/>
<circle cx="429.94" cy="665.3" r="2.35"/>
<circle cx="429.94" cy="668.5" r="2.35"/>
<circle cx="429.94" cy="674.9" r="2.35"/>
<circle cx="431.44" cy="683" r="2.35"/>
<circle cx="428.44" cy="686.83" r="2.35"/>
<circle cx="431.44" cy="690.67" r="2.35"/>
<circle cx="428.44" cy="694.5" r="2.35"/>
<circle cx="431.44" cy="698.33" r="2.35"/>
<circle cx="428.44" cy="702.17" r="2.35"/>
<circle cx="431.44" cy="706" r="2.35"/>
<rect x="440.89" y="693.15" width="4.5" height="4.5"/>
<rect x="440.89" y="695.75" width="4.5" height="4.5"/>
<rect x="439.39" y="699.25" width="4.5" height="4.5"/>
<rect x="442.39" y="699.25" width="4.5" height="4.5"/>
<rect x="437.89" y="702.75" width="4.5" height="4.5"/>
<rect x="443.89" y="702.75" width="4.5" height="4.5"/>
<rect x="440.89" y="702.75" width="4.5" height="4.5"/>
<path d="M126.2 699.2V692.8H139V699.2" stroke="#111" stroke-width="2" fill="none"/>
<path d="M132.6 681.4L132.6 688.8M129.4 683.25L135.8 686.95M135.8 683.25L129.4 686.95" stroke="#111" stroke-width="1.63" fill="none"/>
<path d="M160.4 565.3V559.2H173.2V565.3" stroke="#111" stroke-width="2" fill="none"/>
<path d="M167.2 548.7L167.2 556.1M164 550.55L170.4 554.25M170.4 550.55L164 554.25" stroke="#111" stroke-width="1.63" fill="none"/>
<path d="M194.2 617.2V610.8H207V617.2" stroke="#111" stroke-width="2" fill="none"/>
<path d="M201.3 600L201.3 607.4M198.1 601.85L204.5 605.55M204.5 601.85L198.1 605.55" stroke="#111" stroke-width="1.63" fill="none"/>
<path d="M260.6 562.1V556.3H273.5V562.1" stroke="#111" stroke-width="2" fill="none"/>
<path d="M267.4 545.3L267.4 552.7M264.2 547.15L270.6 550.85M270.6 547.15L264.2 550.85" stroke="#111" stroke-width="1.63" fill="none"/>
<path d="M364 566.5V560.5H377.2V566.5" stroke="#111" stroke-width="2" fill="none"/>
<path d="M370.4 549.4L370.4 556.8M367.2 551.25L373.6 554.95M373.6 551.25L367.2 554.95" stroke="#111" stroke-width="1.63" fill="none"/>
<path d="M396.8 588.3V582.3H409.4V588.3" stroke="#111" stroke-width="2" fill="none"/>
<path d="M399.05 571.2L399.05 578.6M395.85 573.05L402.25 576.75M402.25 573.05L395.85 576.75M406.95 571.2L406.95 578.6M403.75 573.05L410.15 576.75M410.15 573.05L403.75 576.75" stroke="#111" stroke-width="1.63" fill="none"/>
<path d="M429.2 640V633.8H442.1V640" stroke="#111" stroke-width="2" fill="none"/>
<path d="M428.1 623.1L428.1 630.5M424.9 624.95L431.3 628.65M431.3 624.95L424.9 628.65M436 623.1L436 630.5M432.8 624.95L439.2 628.65M439.2 624.95L432.8 628.65M443.9 623.1L443.9 630.5M440.7 624.95L447.1 628.65M447.1 624.95L440.7 628.65" stroke="#111" stroke-width="1.63" fill="none"/>
<text transform="translate(125.86,716) rotate(-90)" font-size="11" text-anchor="end" fill="#1c1c1c">Basal</text>
<text transform="translate(160.82,716) rotate(-90)" font-size="11" text-anchor="end" fill="#1c1c1c">20 µmol/l SFLLRN</text>
<text transform="translate(195.78,716) rotate(-90)" font-size="11" text-anchor="end" fill="#1c1c1c">10</text>
<text transform="translate(230.74,716) rotate(-90)" font-size="11" text-anchor="end" fill="#1c1c1c">100</text>
<text transform="translate(265.7,716) rotate(-90)" font-size="11" text-anchor="end" fill="#1c1c1c">10 µg/ml CRP-XL</text>
<text transform="translate(300.66,716) rotate(-90)" font-size="11" text-anchor="end" fill="#1c1c1c">10</text>
<text transform="translate(335.62,716) rotate(-90)" font-size="11" text-anchor="end" fill="#1c1c1c">100</text>
<text transform="translate(370.58,716) rotate(-90)" font-size="11" text-anchor="end" fill="#1c1c1c">Dual</text>
<text transform="translate(405.54,716) rotate(-90)" font-size="11" text-anchor="end" fill="#1c1c1c">10</text>
<text transform="translate(440.5,716) rotate(-90)" font-size="11" text-anchor="end" fill="#1c1c1c">100</text>
<text x="168" y="746" font-size="9.8" fill="#1c1c1c" textLength="84.8" lengthAdjust="spacingAndGlyphs">PGI<tspan font-size="6.86" dy="2.74">2</tspan><tspan dy="-2.74"> (nmol/l) +agonist</tspan></text>
<line x1="184.9" y1="752.9" x2="235.2" y2="752.9" stroke="#111" stroke-width="2"/>
<text x="269.5" y="744.1" font-size="10.3" fill="#1c1c1c" textLength="92.7" lengthAdjust="spacingAndGlyphs">PGI<tspan font-size="7.21" dy="2.88">2</tspan><tspan dy="-2.88"> (nmol/l) +agonist</tspan></text>
<line x1="290.7" y1="752.4" x2="340.2" y2="752.4" stroke="#111" stroke-width="2"/>
<text x="379.6" y="742.8" font-size="10.3" fill="#1c1c1c" textLength="92.9" lengthAdjust="spacingAndGlyphs">PGI<tspan font-size="7.21" dy="2.88">2</tspan><tspan dy="-2.88"> (nmol/l) +agonist</tspan></text>
<line x1="401.3" y1="751.3" x2="450.3" y2="751.3" stroke="#111" stroke-width="2"/>
<circle cx="464.1" cy="531.5" r="2.4"/>
<text x="477" y="535.9" font-size="11.5" fill="#1c1c1c">T1D</text>
<rect x="461.95" y="540.75" width="4.5" height="4.5"/>
<text x="477" y="548.7" font-size="11.5" fill="#1c1c1c">Control</text>
<text x="477" y="560.8" font-size="11.5" fill="#1c1c1c">participants</text>
<text x="59.8" y="978.5" font-size="22" font-weight="bold" fill="#000">i</text>
<line x1="121.8" y1="984.5" x2="121.8" y2="1170.8" stroke="#111" stroke-width="1.8"/>
<line x1="120.9" y1="1169.9" x2="508.4" y2="1169.9" stroke="#111" stroke-width="1.8"/>
<line x1="115.3" y1="1169.9" x2="122.7" y2="1169.9" stroke="#111" stroke-width="1.8"/>
<text x="113.8" y="1174.16" font-size="12" text-anchor="end" fill="#1c1c1c">0</text>
<line x1="115.3" y1="1108.3" x2="122.7" y2="1108.3" stroke="#111" stroke-width="1.8"/>
<text x="113.8" y="1112.56" font-size="12" text-anchor="end" fill="#1c1c1c">20,000</text>
<line x1="115.3" y1="1046.7" x2="122.7" y2="1046.7" stroke="#111" stroke-width="1.8"/>
<text x="113.8" y="1050.96" font-size="12" text-anchor="end" fill="#1c1c1c">40,000</text>
<line x1="115.3" y1="985.1" x2="122.7" y2="985.1" stroke="#111" stroke-width="1.8"/>
<text x="113.8" y="989.36" font-size="12" text-anchor="end" fill="#1c1c1c">60,000</text>
<text transform="translate(69.2,1074.8) rotate(-90)" font-size="12" text-anchor="middle" textLength="61.5" lengthAdjust="spacingAndGlyphs" fill="#1c1c1c">MFI (AnnV)</text>
<line x1="138.7" y1="1169.9" x2="138.7" y2="1174.8" stroke="#111" stroke-width="1.8"/>
<line x1="177.9" y1="1169.9" x2="177.9" y2="1174.8" stroke="#111" stroke-width="1.8"/>
<line x1="217.1" y1="1169.9" x2="217.1" y2="1174.8" stroke="#111" stroke-width="1.8"/>
<line x1="256.3" y1="1169.9" x2="256.3" y2="1174.8" stroke="#111" stroke-width="1.8"/>
<line x1="295.5" y1="1169.9" x2="295.5" y2="1174.8" stroke="#111" stroke-width="1.8"/>
<line x1="334.7" y1="1169.9" x2="334.7" y2="1174.8" stroke="#111" stroke-width="1.8"/>
<line x1="373.9" y1="1169.9" x2="373.9" y2="1174.8" stroke="#111" stroke-width="1.8"/>
<line x1="413.1" y1="1169.9" x2="413.1" y2="1174.8" stroke="#111" stroke-width="1.8"/>
<line x1="452.3" y1="1169.9" x2="452.3" y2="1174.8" stroke="#111" stroke-width="1.8"/>
<line x1="491.5" y1="1169.9" x2="491.5" y2="1174.8" stroke="#111" stroke-width="1.8"/>
<rect x="127.1" y="1166.5" width="8.4" height="2.95" fill="#5b5b5b"/>
<path d="M127.1 1169.6V1166.5H135.5V1169.6" fill="none" stroke="#111" stroke-width="1.6"/>
<rect x="142.3" y="1167" width="7.6" height="2.45" fill="#e9e9e9"/>
<path d="M142.3 1169.6V1167H149.9V1169.6" fill="none" stroke="#111" stroke-width="1.6"/>
<rect x="166.3" y="1165" width="8.4" height="4.45" fill="#5b5b5b"/>
<path d="M166.3 1169.6V1165H174.7V1169.6" fill="none" stroke="#111" stroke-width="1.6"/>
<rect x="181.5" y="1161" width="7.6" height="8.45" fill="#e9e9e9"/>
<path d="M181.5 1169.6V1161H189.1V1169.6" fill="none" stroke="#111" stroke-width="1.6"/>
<rect x="205.5" y="1165" width="8.4" height="4.45" fill="#5b5b5b"/>
<path d="M205.5 1169.6V1165H213.9V1169.6" fill="none" stroke="#111" stroke-width="1.6"/>
<rect x="220.7" y="1163" width="7.6" height="6.45" fill="#e9e9e9"/>
<path d="M220.7 1169.6V1163H228.3V1169.6" fill="none" stroke="#111" stroke-width="1.6"/>
<rect x="244.7" y="1165" width="8.4" height="4.45" fill="#5b5b5b"/>
<path d="M244.7 1169.6V1165H253.1V1169.6" fill="none" stroke="#111" stroke-width="1.6"/>
<rect x="259.9" y="1163" width="7.6" height="6.45" fill="#e9e9e9"/>
<path d="M259.9 1169.6V1163H267.5V1169.6" fill="none" stroke="#111" stroke-width="1.6"/>
<rect x="283.9" y="1138.1" width="8.4" height="31.35" fill="#5b5b5b"/>
<path d="M283.9 1169.6V1138.1H292.3V1169.6" fill="none" stroke="#111" stroke-width="1.6"/>
<rect x="299.1" y="1148" width="7.6" height="21.45" fill="#e9e9e9"/>
<path d="M299.1 1169.6V1148H306.7V1169.6" fill="none" stroke="#111" stroke-width="1.6"/>
<rect x="323.1" y="1157.4" width="8.4" height="12.05" fill="#5b5b5b"/>
<path d="M323.1 1169.6V1157.4H331.5V1169.6" fill="none" stroke="#111" stroke-width="1.6"/>
<rect x="338.3" y="1155" width="7.6" height="14.45" fill="#e9e9e9"/>
<path d="M338.3 1169.6V1155H345.9V1169.6" fill="none" stroke="#111" stroke-width="1.6"/>
<rect x="362.3" y="1164" width="8.4" height="5.45" fill="#5b5b5b"/>
<path d="M362.3 1169.6V1164H370.7V1169.6" fill="none" stroke="#111" stroke-width="1.6"/>
<rect x="377.5" y="1166" width="7.6" height="3.45" fill="#e9e9e9"/>
<path d="M377.5 1169.6V1166H385.1V1169.6" fill="none" stroke="#111" stroke-width="1.6"/>
<rect x="401.5" y="1087.2" width="8.4" height="82.25" fill="#5b5b5b"/>
<path d="M401.5 1169.6V1087.2H409.9V1169.6" fill="none" stroke="#111" stroke-width="1.6"/>
<rect x="416.7" y="1109.2" width="7.6" height="60.25" fill="#e9e9e9"/>
<path d="M416.7 1169.6V1109.2H424.3V1169.6" fill="none" stroke="#111" stroke-width="1.6"/>
<rect x="440.7" y="1125.3" width="8.4" height="44.15" fill="#5b5b5b"/>
<path d="M440.7 1169.6V1125.3H449.1V1169.6" fill="none" stroke="#111" stroke-width="1.6"/>
<rect x="455.9" y="1137" width="7.6" height="32.45" fill="#e9e9e9"/>
<path d="M455.9 1169.6V1137H463.5V1169.6" fill="none" stroke="#111" stroke-width="1.6"/>
<rect x="479.9" y="1155.6" width="8.4" height="13.85" fill="#5b5b5b"/>
<path d="M479.9 1169.6V1155.6H488.3V1169.6" fill="none" stroke="#111" stroke-width="1.6"/>
<rect x="495.1" y="1161.5" width="7.6" height="7.95" fill="#e9e9e9"/>
<path d="M495.1 1169.6V1161.5H502.7V1169.6" fill="none" stroke="#111" stroke-width="1.6"/>
<path d="M288.1 1158V1118M285.6 1118H290.6M285.6 1158H290.6" stroke="#9a9a9a" stroke-width="1" fill="none"/>
<path d="M327.3 1168V1142M324.8 1142H329.8M324.8 1168H329.8" stroke="#9a9a9a" stroke-width="1" fill="none"/>
<path d="M342.1 1168V1139.3M339.6 1139.3H344.6M339.6 1168H344.6" stroke="#777777" stroke-width="1" fill="none"/>
<path d="M405.7 1110V1064M403.2 1064H408.2M403.2 1110H408.2" stroke="#9a9a9a" stroke-width="1" fill="none"/>
<path d="M420.5 1118V1100M418 1100H423M418 1118H423" stroke="#777777" stroke-width="1" fill="none"/>
<path d="M444.9 1147V1103M442.4 1103H447.4M442.4 1147H447.4" stroke="#9a9a9a" stroke-width="1" fill="none"/>
<path d="M459.7 1143V1131M457.2 1131H462.2M457.2 1143H462.2" stroke="#777777" stroke-width="1" fill="none"/>
<path d="M484.1 1168V1140M481.6 1140H486.6M481.6 1168H486.6" stroke="#9a9a9a" stroke-width="1" fill="none"/>
<circle cx="131.3" cy="1157.2" r="2.35"/>
<circle cx="131.3" cy="1159.6" r="2.35"/>
<circle cx="128.8" cy="1163.5" r="2.35"/>
<circle cx="133.8" cy="1163.5" r="2.35"/>
<circle cx="131.3" cy="1162.5" r="2.35"/>
<circle cx="128.3" cy="1166.5" r="2.35"/>
<circle cx="134.3" cy="1166.5" r="2.35"/>
<circle cx="131.3" cy="1166.5" r="2.35"/>
<rect x="141.3" y="1164.2" width="4.6" height="4.6"/>
<rect x="143.8" y="1163.7" width="4.6" height="4.6"/>
<rect x="146.3" y="1164.2" width="4.6" height="4.6"/>
<circle cx="170.5" cy="1148.8" r="2.35"/>
<circle cx="170.5" cy="1158" r="2.35"/>
<circle cx="170.5" cy="1160.5" r="2.35"/>
<circle cx="168.5" cy="1162.5" r="2.35"/>
<circle cx="172.5" cy="1162.5" r="2.35"/>
<circle cx="167.5" cy="1166" r="2.35"/>
<circle cx="173.5" cy="1166" r="2.35"/>
<circle cx="170.5" cy="1166" r="2.35"/>
<rect x="180.5" y="1158.7" width="4.6" height="4.6"/>
<rect x="185.5" y="1158.7" width="4.6" height="4.6"/>
<rect x="180.5" y="1162.7" width="4.6" height="4.6"/>
<rect x="185.5" y="1162.7" width="4.6" height="4.6"/>
<circle cx="209.7" cy="1144.1" r="2.35"/>
<circle cx="209.7" cy="1153.1" r="2.35"/>
<circle cx="209.7" cy="1159.6" r="2.35"/>
<circle cx="207.7" cy="1162.5" r="2.35"/>
<circle cx="211.7" cy="1162.5" r="2.35"/>
<circle cx="206.7" cy="1166" r="2.35"/>
<circle cx="212.7" cy="1166" r="2.35"/>
<circle cx="209.7" cy="1166" r="2.35"/>
<rect x="222.2" y="1158.4" width="4.6" height="4.6"/>
<rect x="219.7" y="1161.7" width="4.6" height="4.6"/>
<rect x="224.7" y="1161.7" width="4.6" height="4.6"/>
<rect x="219.2" y="1164.2" width="4.6" height="4.6"/>
<rect x="225.2" y="1164.2" width="4.6" height="4.6"/>
<circle cx="248.9" cy="1143" r="2.35"/>
<circle cx="248.9" cy="1155.5" r="2.35"/>
<circle cx="248.9" cy="1160.7" r="2.35"/>
<circle cx="246.9" cy="1163" r="2.35"/>
<circle cx="250.9" cy="1163" r="2.35"/>
<circle cx="245.9" cy="1166" r="2.35"/>
<circle cx="251.9" cy="1166" r="2.35"/>
<circle cx="248.9" cy="1166" r="2.35"/>
<rect x="261.4" y="1158.4" width="4.6" height="4.6"/>
<rect x="258.9" y="1161.7" width="4.6" height="4.6"/>
<rect x="263.9" y="1161.7" width="4.6" height="4.6"/>
<rect x="258.4" y="1164.2" width="4.6" height="4.6"/>
<rect x="264.4" y="1164.2" width="4.6" height="4.6"/>
<circle cx="288.1" cy="1087.9" r="2.35"/>
<circle cx="288.1" cy="1102.8" r="2.35"/>
<circle cx="288.1" cy="1120" r="2.35"/>
<circle cx="288.1" cy="1123.9" r="2.35"/>
<circle cx="288.1" cy="1127.6" r="2.35"/>
<circle cx="288.1" cy="1133.4" r="2.35"/>
<circle cx="288.1" cy="1136.4" r="2.35"/>
<circle cx="289.6" cy="1140" r="2.35"/>
<circle cx="286.6" cy="1143" r="2.35"/>
<circle cx="289.6" cy="1146" r="2.35"/>
<circle cx="286.6" cy="1149" r="2.35"/>
<circle cx="289.6" cy="1152" r="2.35"/>
<circle cx="286.6" cy="1155" r="2.35"/>
<circle cx="289.6" cy="1158" r="2.35"/>
<circle cx="286.6" cy="1161" r="2.35"/>
<rect x="298.1" y="1146.3" width="4.6" height="4.6"/>
<rect x="303.1" y="1146.3" width="4.6" height="4.6"/>
<rect x="300.6" y="1150.4" width="4.6" height="4.6"/>
<rect x="300.6" y="1152.7" width="4.6" height="4.6"/>
<circle cx="327.3" cy="1120.6" r="2.35"/>
<circle cx="327.3" cy="1134.6" r="2.35"/>
<circle cx="327.3" cy="1143.4" r="2.35"/>
<circle cx="327.3" cy="1145.7" r="2.35"/>
<circle cx="327.3" cy="1148.6" r="2.35"/>
<circle cx="327.3" cy="1153.9" r="2.35"/>
<circle cx="328.8" cy="1158" r="2.35"/>
<circle cx="325.8" cy="1162" r="2.35"/>
<circle cx="328.8" cy="1166" r="2.35"/>
<rect x="339.8" y="1129.4" width="4.6" height="4.6"/>
<rect x="339.8" y="1158" width="4.6" height="4.6"/>
<rect x="339.8" y="1160.7" width="4.6" height="4.6"/>
<circle cx="366.5" cy="1126" r="2.35"/>
<circle cx="366.5" cy="1154.3" r="2.35"/>
<circle cx="366.5" cy="1157.3" r="2.35"/>
<circle cx="366.5" cy="1160" r="2.35"/>
<circle cx="364" cy="1163" r="2.35"/>
<circle cx="369" cy="1163" r="2.35"/>
<circle cx="363.5" cy="1166" r="2.35"/>
<circle cx="369.5" cy="1166" r="2.35"/>
<circle cx="366.5" cy="1166" r="2.35"/>
<rect x="376.5" y="1163.7" width="4.6" height="4.6"/>
<rect x="379" y="1163.2" width="4.6" height="4.6"/>
<rect x="381.5" y="1163.7" width="4.6" height="4.6"/>
<circle cx="405.7" cy="1008.6" r="2.35"/>
<circle cx="405.7" cy="1034.3" r="2.35"/>
<circle cx="405.7" cy="1053.5" r="2.35"/>
<circle cx="405.7" cy="1057.7" r="2.35"/>
<circle cx="405.7" cy="1061.1" r="2.35"/>
<circle cx="405.7" cy="1063.8" r="2.35"/>
<circle cx="405.7" cy="1075.5" r="2.35"/>
<circle cx="405.7" cy="1078.3" r="2.35"/>
<circle cx="405.7" cy="1081" r="2.35"/>
<circle cx="407.1" cy="1088" r="2.35"/>
<circle cx="404.3" cy="1091.33" r="2.35"/>
<circle cx="407.1" cy="1094.67" r="2.35"/>
<circle cx="404.3" cy="1098" r="2.35"/>
<circle cx="405.7" cy="1103.7" r="2.35"/>
<circle cx="405.7" cy="1109.9" r="2.35"/>
<circle cx="405.7" cy="1116.8" r="2.35"/>
<circle cx="405.7" cy="1123.6" r="2.35"/>
<circle cx="405.7" cy="1127.1" r="2.35"/>
<circle cx="405.7" cy="1137.4" r="2.35"/>
<rect x="418.2" y="1099.3" width="4.6" height="4.6"/>
<rect x="420.2" y="1102.1" width="4.6" height="4.6"/>
<rect x="418.2" y="1108.3" width="4.6" height="4.6"/>
<rect x="418.2" y="1111.7" width="4.6" height="4.6"/>
<circle cx="444.9" cy="1081.5" r="2.35"/>
<circle cx="444.9" cy="1086.7" r="2.35"/>
<circle cx="444.9" cy="1092" r="2.35"/>
<circle cx="444.9" cy="1094.3" r="2.35"/>
<circle cx="444.9" cy="1100.7" r="2.35"/>
<circle cx="444.9" cy="1104.2" r="2.35"/>
<circle cx="444.9" cy="1110.7" r="2.35"/>
<circle cx="444.9" cy="1117.1" r="2.35"/>
<circle cx="444.9" cy="1120.6" r="2.35"/>
<circle cx="446.3" cy="1126" r="2.35"/>
<circle cx="443.5" cy="1129.5" r="2.35"/>
<circle cx="446.3" cy="1133" r="2.35"/>
<circle cx="446.4" cy="1143" r="2.35"/>
<circle cx="443.4" cy="1146.5" r="2.35"/>
<circle cx="446.4" cy="1150" r="2.35"/>
<circle cx="443.4" cy="1153.5" r="2.35"/>
<circle cx="446.4" cy="1157" r="2.35"/>
<rect x="457.4" y="1131.7" width="4.6" height="4.6"/>
<rect x="457.4" y="1135.8" width="4.6" height="4.6"/>
<rect x="455.9" y="1137.6" width="4.6" height="4.6"/>
<rect x="457.4" y="1148.7" width="4.6" height="4.6"/>
<circle cx="484.1" cy="1124.1" r="2.35"/>
<circle cx="484.1" cy="1127" r="2.35"/>
<circle cx="484.1" cy="1135.2" r="2.35"/>
<circle cx="484.1" cy="1137.5" r="2.35"/>
<circle cx="484.1" cy="1144.5" r="2.35"/>
<circle cx="484.1" cy="1151" r="2.35"/>
<circle cx="484.1" cy="1153.3" r="2.35"/>
<circle cx="485.7" cy="1157" r="2.35"/>
<circle cx="482.5" cy="1160" r="2.35"/>
<circle cx="485.7" cy="1163" r="2.35"/>
<circle cx="482.5" cy="1166" r="2.35"/>
<rect x="496.6" y="1156.8" width="4.6" height="4.6"/>
<rect x="495.1" y="1159.7" width="4.6" height="4.6"/>
<rect x="498.1" y="1159.7" width="4.6" height="4.6"/>
<path d="M131.1 1152.5V1145.5H147.4V1152.5" stroke="#111" stroke-width="2" fill="none"/>
<path d="M136.45 1134.2L136.45 1141.8M133.16 1136.1L139.74 1139.9M139.74 1136.1L133.16 1139.9M144.35 1134.2L144.35 1141.8M141.06 1136.1L147.64 1139.9M147.64 1136.1L141.06 1139.9" stroke="#111" stroke-width="1.67" fill="none"/>
<path d="M287.3 1081.1V1074.5H303.6V1081.1" stroke="#111" stroke-width="2" fill="none"/>
<path d="M291.85 1062.5L291.85 1070.1M288.56 1064.4L295.14 1068.2M295.14 1064.4L288.56 1068.2M299.75 1062.5L299.75 1070.1M296.46 1064.4L303.04 1068.2M303.04 1064.4L296.46 1068.2" stroke="#111" stroke-width="1.67" fill="none"/>
<path d="M367.1 1119.5V1112.6H383.2V1119.5" stroke="#111" stroke-width="2" fill="none"/>
<path d="M370.95 1100.6L370.95 1108.2M367.66 1102.5L374.24 1106.3M374.24 1102.5L367.66 1106.3M378.85 1100.6L378.85 1108.2M375.56 1102.5L382.14 1106.3M382.14 1102.5L375.56 1106.3" stroke="#111" stroke-width="1.67" fill="none"/>
<path d="M406.1 1003.6V996.8H421.7V1003.6" stroke="#111" stroke-width="2" fill="none"/>
<path d="M410.45 985.1L410.45 992.7M407.16 987L413.74 990.8M413.74 987L407.16 990.8M418.35 985.1L418.35 992.7M415.06 987L421.64 990.8M421.64 987L415.06 990.8" stroke="#111" stroke-width="1.67" fill="none"/>
<path d="M444.3 1076.2V1069.4H459.8V1076.2" stroke="#111" stroke-width="2" fill="none"/>
<path d="M448.85 1057.2L448.85 1064.8M445.56 1059.1L452.14 1062.9M452.14 1059.1L445.56 1062.9M456.75 1057.2L456.75 1064.8M453.46 1059.1L460.04 1062.9M460.04 1059.1L453.46 1062.9" stroke="#111" stroke-width="1.67" fill="none"/>
<path d="M483.7 1117.7V1110.7H499.2V1117.7" stroke="#111" stroke-width="2" fill="none"/>
<path d="M487.65 1099.8L487.65 1107.4M484.36 1101.7L490.94 1105.5M490.94 1101.7L484.36 1105.5M495.55 1099.8L495.55 1107.4M492.26 1101.7L498.84 1105.5M498.84 1101.7L492.26 1105.5" stroke="#111" stroke-width="1.67" fill="none"/>
<text transform="translate(143.09,1179) rotate(-90)" font-size="12.2" text-anchor="end" fill="#1c1c1c">Basal</text>
<text transform="translate(182.29,1179) rotate(-90)" font-size="12.2" text-anchor="end" fill="#1c1c1c">20 µmol/l SFLLRN</text>
<text transform="translate(221.49,1179) rotate(-90)" font-size="12.2" text-anchor="end" fill="#1c1c1c">10</text>
<text transform="translate(260.69,1179) rotate(-90)" font-size="12.2" text-anchor="end" fill="#1c1c1c">100</text>
<text transform="translate(299.89,1179) rotate(-90)" font-size="12.2" text-anchor="end" fill="#1c1c1c">10 µg/ml CRP-XL</text>
<text transform="translate(339.09,1179) rotate(-90)" font-size="12.2" text-anchor="end" fill="#1c1c1c">10</text>
<text transform="translate(378.29,1179) rotate(-90)" font-size="12.2" text-anchor="end" fill="#1c1c1c">100</text>
<text transform="translate(417.49,1179) rotate(-90)" font-size="12.2" text-anchor="end" fill="#1c1c1c">Dual</text>
<text transform="translate(456.69,1179) rotate(-90)" font-size="12.2" text-anchor="end" fill="#1c1c1c">10</text>
<text transform="translate(495.89,1179) rotate(-90)" font-size="12.2" text-anchor="end" fill="#1c1c1c">100</text>
<text x="191" y="1211.1" font-size="10.5" fill="#1c1c1c" textLength="91" lengthAdjust="spacingAndGlyphs">PGI<tspan font-size="7.35" dy="2.94">2</tspan><tspan dy="-2.94"> (nmol/l) +agonist</tspan></text>
<line x1="209" y1="1220.7" x2="263.6" y2="1220.7" stroke="#111" stroke-width="2"/>
<text x="308" y="1213" font-size="11" fill="#1c1c1c" textLength="100.5" lengthAdjust="spacingAndGlyphs">PGI<tspan font-size="7.7" dy="3.08">2</tspan><tspan dy="-3.08"> (nmol/l) +agonist</tspan></text>
<line x1="331.5" y1="1222.6" x2="385.1" y2="1222.6" stroke="#111" stroke-width="2"/>
<text x="427.2" y="1213.3" font-size="11" fill="#1c1c1c" textLength="99.5" lengthAdjust="spacingAndGlyphs">PGI<tspan font-size="7.7" dy="3.08">2</tspan><tspan dy="-3.08"> (nmol/l) +agonist</tspan></text>
<line x1="450.2" y1="1222.1" x2="503.8" y2="1222.1" stroke="#111" stroke-width="2"/>
<circle cx="503.2" cy="993.2" r="2.5"/>
<text x="512.8" y="996.7" font-size="11.8" fill="#1c1c1c">T1D</text>
<rect x="500.9" y="1009.9" width="4.6" height="4.6"/>
<text x="512.8" y="1017.2" font-size="11.8" fill="#1c1c1c">Control</text>
<text x="512.8" y="1029.4" font-size="11.8" fill="#1c1c1c">participants</text>
<line x1="28.5" y1="362.1" x2="28.5" y2="458.95" stroke="#111" stroke-width="1.3"/>
<line x1="27.85" y1="458.3" x2="111.6" y2="458.3" stroke="#111" stroke-width="1.3"/>
<line x1="24.9" y1="458.3" x2="29.15" y2="458.3" stroke="#111" stroke-width="1.3"/>
<text x="23.9" y="460.79" font-size="7" text-anchor="end" class="s" fill="#1c1c1c">0</text>
<line x1="24.9" y1="410.2" x2="29.15" y2="410.2" stroke="#111" stroke-width="1.3"/>
<text x="23.9" y="412.69" font-size="7" text-anchor="end" class="s" fill="#1c1c1c">50</text>
<line x1="24.9" y1="362.1" x2="29.15" y2="362.1" stroke="#111" stroke-width="1.3"/>
<text x="23.9" y="364.59" font-size="7" text-anchor="end" class="s" fill="#1c1c1c">100</text>
<text transform="translate(6.4,409.2) rotate(-90)" font-size="8" text-anchor="middle" textLength="49.6" lengthAdjust="spacingAndGlyphs" class="s" fill="#1c1c1c">Reduction (%)</text>
<line x1="48.3" y1="458.3" x2="48.3" y2="461.5" stroke="#111" stroke-width="1.3"/>
<line x1="92.3" y1="458.3" x2="92.3" y2="461.5" stroke="#111" stroke-width="1.3"/>
<rect x="35" y="429.5" width="9.4" height="28.35" fill="#5b5b5b"/>
<path d="M35 458V429.5H44.4V458" fill="none" stroke="#111" stroke-width="1.3"/>
<rect x="51.8" y="418.1" width="9.4" height="39.75" fill="#e9e9e9"/>
<path d="M51.8 458V418.1H61.2V458" fill="none" stroke="#111" stroke-width="1.3"/>
<rect x="79.5" y="418.1" width="9.4" height="39.75" fill="#5b5b5b"/>
<path d="M79.5 458V418.1H88.9V458" fill="none" stroke="#111" stroke-width="1.3"/>
<rect x="96.3" y="408.9" width="9.2" height="48.95" fill="#e9e9e9"/>
<path d="M96.3 458V408.9H105.5V458" fill="none" stroke="#111" stroke-width="1.3"/>
<path d="M39.7 460V397.5M37.2 397.5H42.2M37.2 460H42.2" stroke="#8c8c8c" stroke-width="0.95" fill="none"/>
<path d="M56.5 433.5V401.5M54 401.5H59M54 433.5H59" stroke="#777777" stroke-width="0.95" fill="none"/>
<path d="M84.2 451V384.1M81.7 384.1H86.7M81.7 451H86.7" stroke="#8c8c8c" stroke-width="0.95" fill="none"/>
<path d="M100.9 425.5V390.3M98.4 390.3H103.4M98.4 425.5H103.4" stroke="#777777" stroke-width="0.95" fill="none"/>
<circle cx="38.2" cy="367.4" r="1.45"/>
<circle cx="39.7" cy="366" r="1.45"/>
<circle cx="41.2" cy="364.6" r="1.45"/>
<circle cx="42.7" cy="363.2" r="1.45"/>
<circle cx="39.7" cy="387.6" r="1.45"/>
<circle cx="39.7" cy="394.1" r="1.45"/>
<circle cx="39.7" cy="404.4" r="1.45"/>
<circle cx="39.7" cy="408.1" r="1.45"/>
<circle cx="40.4" cy="419" r="1.45"/>
<circle cx="38.9" cy="420.5" r="1.45"/>
<circle cx="39.7" cy="425.2" r="1.45"/>
<circle cx="39.7" cy="436.4" r="1.45"/>
<circle cx="39.2" cy="439.1" r="1.45"/>
<circle cx="40.7" cy="440.3" r="1.45"/>
<circle cx="36.5" cy="445.7" r="1.45"/>
<circle cx="41.6" cy="445.3" r="1.45"/>
<circle cx="39.2" cy="448.4" r="1.45"/>
<circle cx="38.9" cy="451.9" r="1.45"/>
<circle cx="36.3" cy="453.8" r="1.45"/>
<circle cx="38.7" cy="453.8" r="1.45"/>
<circle cx="41.2" cy="453.8" r="1.45"/>
<circle cx="43.9" cy="453.8" r="1.45"/>
<circle cx="36.9" cy="456.6" r="1.45"/>
<rect x="55.05" y="397.25" width="2.9" height="2.9"/>
<rect x="55.05" y="404.35" width="2.9" height="2.9"/>
<rect x="55.05" y="409.75" width="2.9" height="2.9"/>
<rect x="55.05" y="415.55" width="2.9" height="2.9"/>
<rect x="55.05" y="425.85" width="2.9" height="2.9"/>
<rect x="55.05" y="441.45" width="2.9" height="2.9"/>
<circle cx="79.8" cy="364" r="1.45"/>
<circle cx="82.8" cy="366.2" r="1.45"/>
<circle cx="85.4" cy="366.2" r="1.45"/>
<circle cx="88.4" cy="364" r="1.45"/>
<circle cx="84.2" cy="370.2" r="1.45"/>
<circle cx="82.8" cy="379.8" r="1.45"/>
<circle cx="85.7" cy="382.1" r="1.45"/>
<circle cx="84.2" cy="393.6" r="1.45"/>
<circle cx="84.2" cy="407.3" r="1.45"/>
<circle cx="82.8" cy="410.6" r="1.45"/>
<circle cx="85.7" cy="413.1" r="1.45"/>
<circle cx="84.2" cy="423.4" r="1.45"/>
<circle cx="84.2" cy="428.1" r="1.45"/>
<circle cx="82.8" cy="438" r="1.45"/>
<circle cx="85.7" cy="439.5" r="1.45"/>
<circle cx="82.8" cy="442" r="1.45"/>
<circle cx="85.7" cy="443" r="1.45"/>
<circle cx="80.7" cy="446" r="1.45"/>
<circle cx="84.2" cy="446" r="1.45"/>
<circle cx="88.2" cy="446" r="1.45"/>
<circle cx="82.7" cy="449" r="1.45"/>
<circle cx="85.7" cy="449.5" r="1.45"/>
<circle cx="80.2" cy="450.5" r="1.45"/>
<circle cx="82.8" cy="452.5" r="1.45"/>
<circle cx="85.7" cy="453" r="1.45"/>
<circle cx="82.8" cy="456" r="1.45"/>
<circle cx="85.7" cy="456" r="1.45"/>
<rect x="99.45" y="387.25" width="2.9" height="2.9"/>
<rect x="99.45" y="393.15" width="2.9" height="2.9"/>
<rect x="101.95" y="400.35" width="2.9" height="2.9"/>
<rect x="96.85" y="402.35" width="2.9" height="2.9"/>
<rect x="99.45" y="425.55" width="2.9" height="2.9"/>
<rect x="99.45" y="429.65" width="2.9" height="2.9"/>
<text x="48.3" y="470.9" font-size="6.7" text-anchor="middle" class="s" fill="#1c1c1c">10</text>
<text x="92.3" y="470.9" font-size="6.7" text-anchor="middle" class="s" fill="#1c1c1c">100</text>
<text x="69.9" y="481.3" font-size="8" text-anchor="middle" textLength="63.3" lengthAdjust="spacingAndGlyphs" class="s" fill="#1c1c1c">+20 µmol/l SFLLRN</text>
<line x1="41.1" y1="485.6" x2="98.2" y2="485.6" stroke="#111" stroke-width="1.6"/>
<circle cx="119.9" cy="364.7" r="1.5"/>
<text x="125.6" y="367.9" font-size="9" class="s" fill="#1c1c1c">T1D</text>
<rect x="118.5" y="374.6" width="2.8" height="2.8"/>
<text x="125.6" y="379.3" font-size="9" textLength="77" lengthAdjust="spacingAndGlyphs" class="s" fill="#1c1c1c">Control participants</text>
<text x="0.2" y="346.3" font-size="24.5" font-weight="bold" fill="#000">b</text>
<line x1="271" y1="361.7" x2="271" y2="457.25" stroke="#111" stroke-width="1.3"/>
<line x1="270.35" y1="456.6" x2="355" y2="456.6" stroke="#111" stroke-width="1.3"/>
<line x1="267.4" y1="456.6" x2="271.65" y2="456.6" stroke="#111" stroke-width="1.3"/>
<text x="266.4" y="459.09" font-size="7" text-anchor="end" class="s" fill="#1c1c1c">0</text>
<line x1="267.4" y1="432.88" x2="271.65" y2="432.88" stroke="#111" stroke-width="1.3"/>
<text x="266.4" y="435.36" font-size="7" text-anchor="end" class="s" fill="#1c1c1c">10</text>
<line x1="267.4" y1="409.15" x2="271.65" y2="409.15" stroke="#111" stroke-width="1.3"/>
<text x="266.4" y="411.64" font-size="7" text-anchor="end" class="s" fill="#1c1c1c">20</text>
<line x1="267.4" y1="385.43" x2="271.65" y2="385.43" stroke="#111" stroke-width="1.3"/>
<text x="266.4" y="387.91" font-size="7" text-anchor="end" class="s" fill="#1c1c1c">30</text>
<line x1="267.4" y1="361.7" x2="271.65" y2="361.7" stroke="#111" stroke-width="1.3"/>
<text x="266.4" y="364.19" font-size="7" text-anchor="end" class="s" fill="#1c1c1c">40</text>
<text transform="translate(252.3,408.3) rotate(-90)" font-size="8" text-anchor="middle" textLength="49.6" lengthAdjust="spacingAndGlyphs" class="s" fill="#1c1c1c">Reduction (%)</text>
<line x1="290" y1="456.6" x2="290" y2="459.8" stroke="#111" stroke-width="1.3"/>
<line x1="334.8" y1="456.6" x2="334.8" y2="459.8" stroke="#111" stroke-width="1.3"/>
<rect x="277.2" y="439.2" width="9.5" height="16.95" fill="#5b5b5b"/>
<path d="M277.2 456.3V439.2H286.7V456.3" fill="none" stroke="#111" stroke-width="1.3"/>
<rect x="293.9" y="429.8" width="9.3" height="26.35" fill="#e9e9e9"/>
<path d="M293.9 456.3V429.8H303.2V456.3" fill="none" stroke="#111" stroke-width="1.3"/>
<rect x="322" y="421.1" width="9.4" height="35.05" fill="#5b5b5b"/>
<path d="M322 456.3V421.1H331.4V456.3" fill="none" stroke="#111" stroke-width="1.3"/>
<rect x="338.8" y="409.8" width="8.8" height="46.35" fill="#e9e9e9"/>
<path d="M338.8 456.3V409.8H347.6V456.3" fill="none" stroke="#111" stroke-width="1.3"/>
<path d="M281.95 447V430M279.45 430H284.45M279.45 447H284.45" stroke="#8c8c8c" stroke-width="0.95" fill="none"/>
<path d="M298.55 444V414.3M296.05 414.3H301.05M296.05 444H301.05" stroke="#777777" stroke-width="0.95" fill="none"/>
<path d="M326.7 435V405.7M324.2 405.7H329.2M324.2 435H329.2" stroke="#8c8c8c" stroke-width="0.95" fill="none"/>
<path d="M343.2 422.5V396M340.7 396H345.7M340.7 422.5H345.7" stroke="#777777" stroke-width="0.95" fill="none"/>
<circle cx="281.95" cy="417.5" r="1.45"/>
<circle cx="281.95" cy="420.8" r="1.45"/>
<circle cx="281.95" cy="423.9" r="1.45"/>
<circle cx="281.95" cy="428.5" r="1.45"/>
<circle cx="284.25" cy="429.9" r="1.45"/>
<circle cx="279.65" cy="430.8" r="1.45"/>
<circle cx="281.95" cy="433.2" r="1.45"/>
<circle cx="283.95" cy="436.1" r="1.45"/>
<circle cx="281.45" cy="436.7" r="1.45"/>
<circle cx="279.45" cy="439" r="1.45"/>
<circle cx="281.95" cy="439" r="1.45"/>
<circle cx="284.45" cy="439.5" r="1.45"/>
<circle cx="278.95" cy="441" r="1.45"/>
<circle cx="282.45" cy="441.5" r="1.45"/>
<circle cx="284.95" cy="442" r="1.45"/>
<circle cx="279.95" cy="444" r="1.45"/>
<circle cx="282.95" cy="445" r="1.45"/>
<circle cx="278.95" cy="446.5" r="1.45"/>
<circle cx="283.95" cy="447" r="1.45"/>
<circle cx="281.95" cy="448.5" r="1.45"/>
<circle cx="282.95" cy="453.8" r="1.45"/>
<circle cx="280.75" cy="455.8" r="1.45"/>
<rect x="297.1" y="408.25" width="2.9" height="2.9"/>
<rect x="297.1" y="418.75" width="2.9" height="2.9"/>
<rect x="297.1" y="426.15" width="2.9" height="2.9"/>
<rect x="294.5" y="443.05" width="2.9" height="2.9"/>
<rect x="299.7" y="441.85" width="2.9" height="2.9"/>
<circle cx="326.7" cy="382.7" r="1.45"/>
<circle cx="326.7" cy="397.3" r="1.45"/>
<circle cx="326.7" cy="402.4" r="1.45"/>
<circle cx="326.7" cy="406" r="1.45"/>
<circle cx="325.2" cy="409.2" r="1.45"/>
<circle cx="328.2" cy="410" r="1.45"/>
<circle cx="326.7" cy="413" r="1.45"/>
<circle cx="325.3" cy="414.6" r="1.45"/>
<circle cx="322.6" cy="416.4" r="1.45"/>
<circle cx="331.3" cy="417.4" r="1.45"/>
<circle cx="328.2" cy="417.9" r="1.45"/>
<circle cx="326.7" cy="419.1" r="1.45"/>
<circle cx="323.7" cy="425" r="1.45"/>
<circle cx="326.7" cy="425" r="1.45"/>
<circle cx="329.7" cy="425.5" r="1.45"/>
<circle cx="325.2" cy="428" r="1.45"/>
<circle cx="328.2" cy="428.5" r="1.45"/>
<circle cx="322.7" cy="430.7" r="1.45"/>
<circle cx="325.7" cy="430.7" r="1.45"/>
<circle cx="328.7" cy="430.7" r="1.45"/>
<circle cx="331.2" cy="430.7" r="1.45"/>
<circle cx="325.2" cy="433.8" r="1.45"/>
<circle cx="328.2" cy="433.8" r="1.45"/>
<circle cx="325.2" cy="436.8" r="1.45"/>
<circle cx="328.2" cy="438.4" r="1.45"/>
<circle cx="326.7" cy="442.4" r="1.45"/>
<rect x="341.75" y="391.45" width="2.9" height="2.9"/>
<rect x="341.75" y="401.15" width="2.9" height="2.9"/>
<rect x="341.75" y="407.25" width="2.9" height="2.9"/>
<rect x="341.75" y="411.85" width="2.9" height="2.9"/>
<rect x="341.75" y="427.15" width="2.9" height="2.9"/>
<text x="290" y="470" font-size="8" text-anchor="middle" class="s" fill="#1c1c1c">10</text>
<text x="334.8" y="470" font-size="8" text-anchor="middle" class="s" fill="#1c1c1c">100</text>
<text x="315.3" y="477.5" font-size="8" text-anchor="middle" textLength="60" lengthAdjust="spacingAndGlyphs" class="s" fill="#1c1c1c">+10 µg/ml CRP-XL</text>
<line x1="278.6" y1="483" x2="351.1" y2="483" stroke="#111" stroke-width="1.6"/>
<circle cx="360.5" cy="368.7" r="1.5"/>
<text x="368.4" y="371.8" font-size="9" class="s" fill="#1c1c1c">T1D</text>
<rect x="359.1" y="379" width="2.8" height="2.8"/>
<text x="368.4" y="383.4" font-size="9" textLength="77" lengthAdjust="spacingAndGlyphs" class="s" fill="#1c1c1c">Control participants</text>
<text x="241.5" y="345.7" font-size="22" font-weight="bold" fill="#000">c</text>
<line x1="512.5" y1="360.2" x2="512.5" y2="447.45" stroke="#111" stroke-width="1.3"/>
<line x1="511.85" y1="446.8" x2="598.7" y2="446.8" stroke="#111" stroke-width="1.3"/>
<line x1="508.9" y1="446.8" x2="513.15" y2="446.8" stroke="#111" stroke-width="1.3"/>
<text x="507.9" y="449.57" font-size="7.8" text-anchor="end" class="s" fill="#1c1c1c">0</text>
<line x1="508.9" y1="425.15" x2="513.15" y2="425.15" stroke="#111" stroke-width="1.3"/>
<text x="507.9" y="427.92" font-size="7.8" text-anchor="end" class="s" fill="#1c1c1c">10</text>
<line x1="508.9" y1="403.5" x2="513.15" y2="403.5" stroke="#111" stroke-width="1.3"/>
<text x="507.9" y="406.27" font-size="7.8" text-anchor="end" class="s" fill="#1c1c1c">20</text>
<line x1="508.9" y1="381.85" x2="513.15" y2="381.85" stroke="#111" stroke-width="1.3"/>
<text x="507.9" y="384.62" font-size="7.8" text-anchor="end" class="s" fill="#1c1c1c">30</text>
<line x1="508.9" y1="360.2" x2="513.15" y2="360.2" stroke="#111" stroke-width="1.3"/>
<text x="507.9" y="362.97" font-size="7.8" text-anchor="end" class="s" fill="#1c1c1c">40</text>
<text transform="translate(492.8,402.4) rotate(-90)" font-size="8" text-anchor="middle" textLength="51.8" lengthAdjust="spacingAndGlyphs" class="s" fill="#1c1c1c">Reduction (%)</text>
<line x1="532.8" y1="446.8" x2="532.8" y2="450" stroke="#111" stroke-width="1.3"/>
<line x1="578.3" y1="446.8" x2="578.3" y2="450" stroke="#111" stroke-width="1.3"/>
<rect x="519.2" y="428.3" width="10.5" height="18.05" fill="#5b5b5b"/>
<path d="M519.2 446.5V428.3H529.7V446.5" fill="none" stroke="#111" stroke-width="1.3"/>
<rect x="536.5" y="423.6" width="9.8" height="22.75" fill="#e9e9e9"/>
<path d="M536.5 446.5V423.6H546.3V446.5" fill="none" stroke="#111" stroke-width="1.3"/>
<rect x="564.8" y="411.6" width="10.4" height="34.75" fill="#5b5b5b"/>
<path d="M564.8 446.5V411.6H575.2V446.5" fill="none" stroke="#111" stroke-width="1.3"/>
<rect x="582.6" y="397.5" width="9.8" height="48.85" fill="#e9e9e9"/>
<path d="M582.6 446.5V397.5H592.4V446.5" fill="none" stroke="#111" stroke-width="1.3"/>
<path d="M524.45 445V410M521.95 410H526.95M521.95 445H526.95" stroke="#8c8c8c" stroke-width="0.95" fill="none"/>
<path d="M541.4 435.6V409.1M538.9 409.1H543.9M538.9 435.6H543.9" stroke="#777777" stroke-width="0.95" fill="none"/>
<path d="M570 422.3V403.5M567.5 403.5H572.5M567.5 422.3H572.5" stroke="#8c8c8c" stroke-width="0.95" fill="none"/>
<path d="M587.5 405.3V387.6M585 387.6H590M585 405.3H590" stroke="#777777" stroke-width="0.95" fill="none"/>
<circle cx="524.45" cy="396.2" r="1.45"/>
<circle cx="524.45" cy="403.2" r="1.45"/>
<circle cx="525.85" cy="407.1" r="1.45"/>
<circle cx="522.65" cy="409.6" r="1.45"/>
<circle cx="519.85" cy="417.7" r="1.45"/>
<circle cx="525.85" cy="415.6" r="1.45"/>
<circle cx="528.65" cy="416.8" r="1.45"/>
<circle cx="525.85" cy="418.7" r="1.45"/>
<circle cx="522.45" cy="427.5" r="1.45"/>
<circle cx="524.45" cy="427.5" r="1.45"/>
<circle cx="526.45" cy="427.5" r="1.45"/>
<circle cx="528.45" cy="427.5" r="1.45"/>
<circle cx="524.45" cy="433.9" r="1.45"/>
<circle cx="519.85" cy="437.7" r="1.45"/>
<circle cx="523.15" cy="440.2" r="1.45"/>
<circle cx="525.95" cy="440.2" r="1.45"/>
<circle cx="524.45" cy="442" r="1.45"/>
<circle cx="524.45" cy="443.7" r="1.45"/>
<rect x="539.95" y="404.85" width="2.9" height="2.9"/>
<rect x="539.95" y="408.95" width="2.9" height="2.9"/>
<rect x="539.95" y="420.45" width="2.9" height="2.9"/>
<rect x="539.95" y="424.25" width="2.9" height="2.9"/>
<rect x="539.95" y="427.05" width="2.9" height="2.9"/>
<rect x="539.95" y="441.95" width="2.9" height="2.9"/>
<circle cx="570" cy="393.5" r="1.45"/>
<circle cx="568.5" cy="397.8" r="1.45"/>
<circle cx="571.3" cy="397.1" r="1.45"/>
<circle cx="570" cy="401.9" r="1.45"/>
<circle cx="565.2" cy="403.7" r="1.45"/>
<circle cx="568.7" cy="404.7" r="1.45"/>
<circle cx="571.3" cy="404.5" r="1.45"/>
<circle cx="574.4" cy="403.5" r="1.45"/>
<circle cx="565.8" cy="410" r="1.45"/>
<circle cx="574.2" cy="410.5" r="1.45"/>
<circle cx="571" cy="412.5" r="1.45"/>
<circle cx="568.5" cy="417" r="1.45"/>
<circle cx="571.5" cy="418.8" r="1.45"/>
<circle cx="570" cy="424.8" r="1.45"/>
<circle cx="568.5" cy="432.5" r="1.45"/>
<circle cx="571.3" cy="432" r="1.45"/>
<rect x="586.05" y="382.05" width="2.9" height="2.9"/>
<rect x="586.05" y="386.95" width="2.9" height="2.9"/>
<rect x="586.05" y="394.35" width="2.9" height="2.9"/>
<rect x="583.25" y="400.45" width="2.9" height="2.9"/>
<rect x="588.55" y="402.05" width="2.9" height="2.9"/>
<rect x="586.05" y="405.15" width="2.9" height="2.9"/>
<text x="532.8" y="458" font-size="7.6" text-anchor="middle" class="s" fill="#1c1c1c">10</text>
<text x="578.3" y="458" font-size="7.6" text-anchor="middle" class="s" fill="#1c1c1c">100</text>
<text x="557.1" y="469" font-size="8" text-anchor="middle" textLength="51.8" lengthAdjust="spacingAndGlyphs" class="s" fill="#1c1c1c">+ Dual agonists</text>
<line x1="528" y1="473.8" x2="586" y2="473.8" stroke="#111" stroke-width="1.6"/>
<circle cx="603.4" cy="361.4" r="1.5"/>
<text x="607.5" y="364.6" font-size="9" class="s" fill="#1c1c1c">T1D</text>
<rect x="602" y="372" width="2.8" height="2.8"/>
<text x="607.5" y="376.6" font-size="9" textLength="77" lengthAdjust="spacingAndGlyphs" class="s" fill="#1c1c1c">Control participants</text>
<text x="483.3" y="345.7" font-size="23.5" font-weight="bold" fill="#000">d</text>
<line x1="40.7" y1="826.1" x2="40.7" y2="925.05" stroke="#111" stroke-width="1.3"/>
<line x1="40.05" y1="924.4" x2="124.9" y2="924.4" stroke="#111" stroke-width="1.3"/>
<line x1="37.1" y1="924.4" x2="41.35" y2="924.4" stroke="#111" stroke-width="1.3"/>
<text x="36.1" y="927.1" font-size="7.6" text-anchor="end" class="s" fill="#1c1c1c">0</text>
<line x1="37.1" y1="875.25" x2="41.35" y2="875.25" stroke="#111" stroke-width="1.3"/>
<text x="36.1" y="877.95" font-size="7.6" text-anchor="end" class="s" fill="#1c1c1c">50</text>
<line x1="37.1" y1="826.1" x2="41.35" y2="826.1" stroke="#111" stroke-width="1.3"/>
<text x="36.1" y="828.8" font-size="7.6" text-anchor="end" class="s" fill="#1c1c1c">100</text>
<text transform="translate(16.2,874.4) rotate(-90)" font-size="8" text-anchor="middle" textLength="50" lengthAdjust="spacingAndGlyphs" class="s" fill="#1c1c1c">Reduction (%)</text>
<line x1="60.8" y1="924.4" x2="60.8" y2="927.6" stroke="#111" stroke-width="1.3"/>
<line x1="105.5" y1="924.4" x2="105.5" y2="927.6" stroke="#111" stroke-width="1.3"/>
<rect x="47.4" y="855.8" width="9.7" height="68.15" fill="#5b5b5b"/>
<path d="M47.4 924.1V855.8H57.1V924.1" fill="none" stroke="#111" stroke-width="1.3"/>
<rect x="63.7" y="840.7" width="10.5" height="83.25" fill="#e9e9e9"/>
<path d="M63.7 924.1V840.7H74.2V924.1" fill="none" stroke="#111" stroke-width="1.3"/>
<rect x="92.6" y="833" width="9.7" height="90.95" fill="#5b5b5b"/>
<path d="M92.6 924.1V833H102.3V924.1" fill="none" stroke="#111" stroke-width="1.3"/>
<rect x="109.1" y="834.8" width="9.8" height="89.15" fill="#e9e9e9"/>
<path d="M109.1 924.1V834.8H118.9V924.1" fill="none" stroke="#111" stroke-width="1.3"/>
<path d="M52.25 875.5V835M49.75 835H54.75M49.75 875.5H54.75" stroke="#8c8c8c" stroke-width="0.95" fill="none"/>
<path d="M68.95 853.3V826.2M66.45 826.2H71.45M66.45 853.3H71.45" stroke="#777777" stroke-width="0.95" fill="none"/>
<path d="M97.45 836V829M94.95 829H99.95M94.95 836H99.95" stroke="#8c8c8c" stroke-width="0.95" fill="none"/>
<path d="M114 840V828.2M111.5 828.2H116.5M111.5 840H116.5" stroke="#777777" stroke-width="0.95" fill="none"/>
<circle cx="48.25" cy="835.3" r="1.2"/>
<circle cx="50.25" cy="833.2" r="1.2"/>
<circle cx="52.25" cy="833.2" r="1.2"/>
<circle cx="54.25" cy="833.2" r="1.2"/>
<circle cx="56.25" cy="835.3" r="1.2"/>
<circle cx="49.25" cy="837.4" r="1.2"/>
<circle cx="55.25" cy="837.4" r="1.2"/>
<circle cx="49.75" cy="839.5" r="1.2"/>
<circle cx="54.75" cy="839.5" r="1.2"/>
<circle cx="49.25" cy="841.2" r="1.2"/>
<circle cx="55.25" cy="841.2" r="1.2"/>
<circle cx="49.75" cy="842.9" r="1.2"/>
<circle cx="54.75" cy="842.9" r="1.2"/>
<circle cx="49.25" cy="844.6" r="1.2"/>
<circle cx="55.25" cy="844.6" r="1.2"/>
<circle cx="50.25" cy="846.7" r="1.2"/>
<circle cx="54.25" cy="846.7" r="1.2"/>
<circle cx="52.25" cy="848.8" r="1.2"/>
<circle cx="52.25" cy="851.4" r="1.2"/>
<circle cx="52.25" cy="853.5" r="1.2"/>
<circle cx="50.25" cy="854.7" r="1.2"/>
<circle cx="54.25" cy="854.7" r="1.2"/>
<circle cx="52.25" cy="856.4" r="1.2"/>
<circle cx="52.25" cy="862.8" r="1.2"/>
<circle cx="54.25" cy="865.7" r="1.2"/>
<circle cx="52.25" cy="869.1" r="1.2"/>
<circle cx="51.25" cy="891.5" r="1.2"/>
<circle cx="53.25" cy="891.5" r="1.2"/>
<circle cx="52.25" cy="899.1" r="1.2"/>
<circle cx="52.25" cy="917.3" r="1.2"/>
<rect x="63" y="827.45" width="2.5" height="2.5"/>
<rect x="72" y="827.45" width="2.5" height="2.5"/>
<rect x="67.7" y="829.55" width="2.5" height="2.5"/>
<rect x="67.7" y="838.05" width="2.5" height="2.5"/>
<rect x="67.7" y="850.65" width="2.5" height="2.5"/>
<rect x="67.7" y="858.85" width="2.5" height="2.5"/>
<circle cx="95.25" cy="832.3" r="1.2"/>
<circle cx="96.35" cy="832.7" r="1.2"/>
<circle cx="98.55" cy="829" r="1.2"/>
<circle cx="93.35" cy="834.4" r="1.2"/>
<circle cx="95.45" cy="830.1" r="1.2"/>
<circle cx="101.65" cy="831.8" r="1.2"/>
<circle cx="100.25" cy="831.8" r="1.2"/>
<circle cx="98.65" cy="829.6" r="1.2"/>
<circle cx="98.55" cy="834.6" r="1.2"/>
<circle cx="97.65" cy="833.7" r="1.2"/>
<circle cx="98.85" cy="828.9" r="1.2"/>
<circle cx="99.65" cy="832.6" r="1.2"/>
<circle cx="95.75" cy="828.7" r="1.2"/>
<circle cx="100.55" cy="831.8" r="1.2"/>
<circle cx="99.25" cy="834.7" r="1.2"/>
<circle cx="99.25" cy="834.9" r="1.2"/>
<circle cx="96.55" cy="834.1" r="1.2"/>
<circle cx="96.95" cy="835" r="1.2"/>
<circle cx="100.65" cy="829.2" r="1.2"/>
<circle cx="94.35" cy="830" r="1.2"/>
<circle cx="101.35" cy="831.6" r="1.2"/>
<circle cx="98.55" cy="830.6" r="1.2"/>
<circle cx="97.45" cy="837.5" r="1.2"/>
<circle cx="97.45" cy="840.3" r="1.2"/>
<circle cx="97.45" cy="844.8" r="1.2"/>
<rect x="108.35" y="826.95" width="2.5" height="2.5"/>
<rect x="117.05" y="827.45" width="2.5" height="2.5"/>
<rect x="112.75" y="829.55" width="2.5" height="2.5"/>
<rect x="112.75" y="834.65" width="2.5" height="2.5"/>
<rect x="112.75" y="835.65" width="2.5" height="2.5"/>
<rect x="110.45" y="839.25" width="2.5" height="2.5"/>
<rect x="115.05" y="838.75" width="2.5" height="2.5"/>
<path d="M49.4 824.9V819.6H67.8V824.9" stroke="#111" stroke-width="1.5" fill="none"/>
<path d="M59 811.25L59 817.55M56.27 812.82L61.73 815.98M61.73 812.82L56.27 815.98" stroke="#111" stroke-width="1.39" fill="none"/>
<text x="60.8" y="937" font-size="7.3" text-anchor="middle" class="s" fill="#1c1c1c">10</text>
<text x="105.5" y="937" font-size="7.3" text-anchor="middle" class="s" fill="#1c1c1c">100</text>
<text x="81.4" y="945.8" font-size="8" text-anchor="middle" textLength="69.2" lengthAdjust="spacingAndGlyphs" class="s" fill="#1c1c1c">+20 µmol/l SFLLRN</text>
<line x1="53.8" y1="950.2" x2="108.1" y2="950.2" stroke="#111" stroke-width="1.6"/>
<circle cx="131" cy="832.7" r="1.5"/>
<text x="137" y="835.9" font-size="9" class="s" fill="#1c1c1c">T1D</text>
<rect x="129.6" y="842.6" width="2.8" height="2.8"/>
<text x="137" y="847.2" font-size="9" textLength="77" lengthAdjust="spacingAndGlyphs" class="s" fill="#1c1c1c">Control participants</text>
<text x="12.2" y="813.6" font-size="22.5" font-weight="bold" fill="#000">f</text>
<line x1="248.3" y1="831.3" x2="248.3" y2="922.65" stroke="#111" stroke-width="1.3"/>
<line x1="247.65" y1="922" x2="339.8" y2="922" stroke="#111" stroke-width="1.3"/>
<line x1="244.7" y1="922" x2="248.95" y2="922" stroke="#111" stroke-width="1.3"/>
<text x="243.7" y="925.02" font-size="8.5" text-anchor="end" class="s" fill="#1c1c1c">0</text>
<line x1="244.7" y1="880.6" x2="248.95" y2="880.6" stroke="#111" stroke-width="1.3"/>
<text x="243.7" y="883.62" font-size="8.5" text-anchor="end" class="s" fill="#1c1c1c">50</text>
<line x1="244.7" y1="839.2" x2="248.95" y2="839.2" stroke="#111" stroke-width="1.3"/>
<text x="243.7" y="842.22" font-size="8.5" text-anchor="end" class="s" fill="#1c1c1c">100</text>
<text transform="translate(223.1,876.7) rotate(-90)" font-size="8" text-anchor="middle" textLength="49" lengthAdjust="spacingAndGlyphs" class="s" fill="#1c1c1c">Reduction (%)</text>
<line x1="270.2" y1="922" x2="270.2" y2="925.2" stroke="#111" stroke-width="1.3"/>
<line x1="318.2" y1="922" x2="318.2" y2="925.2" stroke="#111" stroke-width="1.3"/>
<rect x="255.7" y="896.2" width="10.4" height="25.35" fill="#5b5b5b"/>
<path d="M255.7 921.7V896.2H266.1V921.7" fill="none" stroke="#111" stroke-width="1.3"/>
<rect x="273.8" y="878.8" width="10.5" height="42.75" fill="#e9e9e9"/>
<path d="M273.8 921.7V878.8H284.3V921.7" fill="none" stroke="#111" stroke-width="1.3"/>
<rect x="303.9" y="856.8" width="10.7" height="64.75" fill="#5b5b5b"/>
<path d="M303.9 921.7V856.8H314.6V921.7" fill="none" stroke="#111" stroke-width="1.3"/>
<rect x="322" y="844.5" width="10.7" height="77.05" fill="#e9e9e9"/>
<path d="M322 921.7V844.5H332.7V921.7" fill="none" stroke="#111" stroke-width="1.3"/>
<path d="M260.9 921V870.2M258.4 870.2H263.4M258.4 921H263.4" stroke="#8c8c8c" stroke-width="0.95" fill="none"/>
<path d="M279.05 897.2V858.6M276.55 858.6H281.55M276.55 897.2H281.55" stroke="#777777" stroke-width="0.95" fill="none"/>
<path d="M309.25 878V833.3M306.75 833.3H311.75M306.75 878H311.75" stroke="#8c8c8c" stroke-width="0.95" fill="none"/>
<path d="M327.35 848V840M324.85 840H329.85M324.85 848H329.85" stroke="#777777" stroke-width="0.95" fill="none"/>
<circle cx="260.9" cy="845.9" r="1.45"/>
<circle cx="260.9" cy="853.8" r="1.45"/>
<circle cx="260.9" cy="862.1" r="1.45"/>
<circle cx="260.9" cy="867.1" r="1.45"/>
<circle cx="256.1" cy="872" r="1.45"/>
<circle cx="265.7" cy="874.2" r="1.45"/>
<circle cx="260.9" cy="876.2" r="1.45"/>
<circle cx="258.5" cy="881.2" r="1.45"/>
<circle cx="263.3" cy="881.2" r="1.45"/>
<circle cx="256.1" cy="886.8" r="1.45"/>
<circle cx="260.9" cy="884.7" r="1.45"/>
<circle cx="265.7" cy="886.3" r="1.45"/>
<circle cx="260.9" cy="888" r="1.45"/>
<circle cx="260.9" cy="898.9" r="1.45"/>
<circle cx="256.1" cy="904.2" r="1.45"/>
<circle cx="260.9" cy="906" r="1.45"/>
<circle cx="256.1" cy="909" r="1.45"/>
<circle cx="265.7" cy="909" r="1.45"/>
<circle cx="260.9" cy="911" r="1.45"/>
<circle cx="263.3" cy="916" r="1.45"/>
<circle cx="258.5" cy="917.8" r="1.45"/>
<rect x="274.8" y="862.75" width="2.9" height="2.9"/>
<rect x="274.8" y="866.35" width="2.9" height="2.9"/>
<rect x="280.4" y="865.55" width="2.9" height="2.9"/>
<rect x="277.6" y="878.65" width="2.9" height="2.9"/>
<rect x="277.6" y="909.25" width="2.9" height="2.9"/>
<circle cx="306.65" cy="840.7" r="1.45"/>
<circle cx="313.35" cy="841.2" r="1.45"/>
<circle cx="304.65" cy="843.3" r="1.45"/>
<circle cx="309.75" cy="843.3" r="1.45"/>
<circle cx="313.85" cy="844.3" r="1.45"/>
<circle cx="305.65" cy="846.3" r="1.45"/>
<circle cx="310.75" cy="846.3" r="1.45"/>
<circle cx="306.65" cy="848.9" r="1.45"/>
<circle cx="310.75" cy="848.9" r="1.45"/>
<circle cx="307.75" cy="851.5" r="1.45"/>
<circle cx="309.75" cy="852" r="1.45"/>
<circle cx="308.75" cy="854.5" r="1.45"/>
<circle cx="310.25" cy="860.7" r="1.45"/>
<circle cx="309.25" cy="862.7" r="1.45"/>
<circle cx="308.25" cy="868.3" r="1.45"/>
<rect x="323.3" y="839.25" width="2.9" height="2.9"/>
<rect x="328.5" y="839.25" width="2.9" height="2.9"/>
<rect x="323.3" y="842.85" width="2.9" height="2.9"/>
<rect x="328.5" y="843.35" width="2.9" height="2.9"/>
<rect x="323.3" y="844.85" width="2.9" height="2.9"/>
<path d="M309.1 827.8V822.5H327.5V827.8" stroke="#111" stroke-width="1.5" fill="none"/>
<path d="M318.4 813.75L318.4 820.05M315.67 815.32L321.13 818.48M321.13 815.32L315.67 818.48" stroke="#111" stroke-width="1.39" fill="none"/>
<text x="270.2" y="936" font-size="8.8" text-anchor="middle" class="s" fill="#1c1c1c">10</text>
<text x="318.2" y="936" font-size="8.8" text-anchor="middle" class="s" fill="#1c1c1c">100</text>
<text x="296.5" y="946.6" font-size="8" text-anchor="middle" textLength="71.3" lengthAdjust="spacingAndGlyphs" class="s" fill="#1c1c1c">+10 µg/ml CRP-XL</text>
<line x1="256.5" y1="951.3" x2="336.8" y2="951.3" stroke="#111" stroke-width="1.6"/>
<circle cx="348.9" cy="833.8" r="1.5"/>
<text x="354" y="837" font-size="9" class="s" fill="#1c1c1c">T1D</text>
<rect x="347.5" y="843.9" width="2.8" height="2.8"/>
<text x="354" y="848.6" font-size="9" textLength="77" lengthAdjust="spacingAndGlyphs" class="s" fill="#1c1c1c">Control participants</text>
<text x="212.8" y="813.6" font-size="24.5" font-weight="bold" fill="#000">g</text>
<line x1="479.4" y1="829.7" x2="479.4" y2="922.25" stroke="#111" stroke-width="1.3"/>
<line x1="478.75" y1="921.6" x2="571.5" y2="921.6" stroke="#111" stroke-width="1.3"/>
<line x1="475.8" y1="921.6" x2="480.05" y2="921.6" stroke="#111" stroke-width="1.3"/>
<text x="474.8" y="924.62" font-size="8.5" text-anchor="end" class="s" fill="#1c1c1c">0</text>
<line x1="475.8" y1="875.65" x2="480.05" y2="875.65" stroke="#111" stroke-width="1.3"/>
<text x="474.8" y="878.67" font-size="8.5" text-anchor="end" class="s" fill="#1c1c1c">50</text>
<line x1="475.8" y1="829.7" x2="480.05" y2="829.7" stroke="#111" stroke-width="1.3"/>
<text x="474.8" y="832.72" font-size="8.5" text-anchor="end" class="s" fill="#1c1c1c">100</text>
<text transform="translate(453.4,877.1) rotate(-90)" font-size="8" text-anchor="middle" textLength="49" lengthAdjust="spacingAndGlyphs" class="s" fill="#1c1c1c">Reduction (%)</text>
<line x1="500.9" y1="921.6" x2="500.9" y2="924.8" stroke="#111" stroke-width="1.3"/>
<line x1="550.5" y1="921.6" x2="550.5" y2="924.8" stroke="#111" stroke-width="1.3"/>
<rect x="486.8" y="919.2" width="10.5" height="1.95" fill="#5b5b5b"/>
<path d="M486.8 921.3V919.2H497.3V921.3" fill="none" stroke="#111" stroke-width="1.3"/>
<rect x="505" y="907.8" width="10.7" height="13.35" fill="#e9e9e9"/>
<path d="M505 921.3V907.8H515.7V921.3" fill="none" stroke="#111" stroke-width="1.3"/>
<rect x="536.5" y="878.9" width="10.2" height="42.25" fill="#5b5b5b"/>
<path d="M536.5 921.3V878.9H546.7V921.3" fill="none" stroke="#111" stroke-width="1.3"/>
<rect x="554.6" y="844.8" width="10.5" height="76.35" fill="#e9e9e9"/>
<path d="M554.6 921.3V844.8H565.1V921.3" fill="none" stroke="#111" stroke-width="1.3"/>
<path d="M492.05 920V903.7M489.55 903.7H494.55M489.55 920H494.55" stroke="#8c8c8c" stroke-width="0.95" fill="none"/>
<path d="M510.35 914.3V900.3M507.85 900.3H512.85M507.85 914.3H512.85" stroke="#777777" stroke-width="0.95" fill="none"/>
<path d="M541.6 905.1V851.3M539.1 851.3H544.1M539.1 905.1H544.1" stroke="#8c8c8c" stroke-width="0.95" fill="none"/>
<path d="M559.85 852V835.6M557.35 835.6H562.35M557.35 852H562.35" stroke="#777777" stroke-width="0.95" fill="none"/>
<circle cx="492.05" cy="886.7" r="1.45"/>
<circle cx="490.15" cy="902.2" r="1.45"/>
<circle cx="492.05" cy="902.2" r="1.45"/>
<circle cx="494.45" cy="899.8" r="1.45"/>
<circle cx="492.05" cy="907.2" r="1.45"/>
<circle cx="492.05" cy="910.3" r="1.45"/>
<circle cx="488.05" cy="917" r="1.45"/>
<circle cx="490.05" cy="916" r="1.45"/>
<circle cx="492.05" cy="917" r="1.45"/>
<circle cx="494.05" cy="916" r="1.45"/>
<circle cx="496.05" cy="917" r="1.45"/>
<circle cx="488.05" cy="919.5" r="1.45"/>
<circle cx="490.55" cy="919.5" r="1.45"/>
<circle cx="493.55" cy="919.5" r="1.45"/>
<circle cx="496.05" cy="919.5" r="1.45"/>
<rect x="508.9" y="897.25" width="2.9" height="2.9"/>
<rect x="508.9" y="900.85" width="2.9" height="2.9"/>
<rect x="508.9" y="906.45" width="2.9" height="2.9"/>
<rect x="508.9" y="910.25" width="2.9" height="2.9"/>
<rect x="508.9" y="913.55" width="2.9" height="2.9"/>
<circle cx="541.6" cy="838.7" r="1.45"/>
<circle cx="540.1" cy="841.8" r="1.45"/>
<circle cx="543.4" cy="842.1" r="1.45"/>
<circle cx="541.6" cy="849.9" r="1.45"/>
<circle cx="541.6" cy="859.1" r="1.45"/>
<circle cx="541.6" cy="866" r="1.45"/>
<circle cx="537" cy="870.9" r="1.45"/>
<circle cx="540.1" cy="871.9" r="1.45"/>
<circle cx="543.4" cy="871.9" r="1.45"/>
<circle cx="546.6" cy="871.4" r="1.45"/>
<circle cx="537" cy="874.1" r="1.45"/>
<circle cx="540.1" cy="874.8" r="1.45"/>
<circle cx="540.1" cy="881.6" r="1.45"/>
<circle cx="543.1" cy="881.6" r="1.45"/>
<circle cx="546.4" cy="881.6" r="1.45"/>
<circle cx="543.1" cy="884.2" r="1.45"/>
<circle cx="541.6" cy="892.1" r="1.45"/>
<circle cx="541.6" cy="903.4" r="1.45"/>
<circle cx="541.6" cy="916" r="1.45"/>
<rect x="553.3" y="837.95" width="2.9" height="2.9"/>
<rect x="558.4" y="835.95" width="2.9" height="2.9"/>
<rect x="563.2" y="838.55" width="2.9" height="2.9"/>
<rect x="558.4" y="843.85" width="2.9" height="2.9"/>
<rect x="558.4" y="855.95" width="2.9" height="2.9"/>
<path d="M490 883.6V878.3H509.3V883.6" stroke="#111" stroke-width="1.5" fill="none"/>
<path d="M496.2 868.15L496.2 874.45M493.47 869.72L498.93 872.88M498.93 869.72L493.47 872.88M503.2 868.15L503.2 874.45M500.47 869.72L505.93 872.88M505.93 869.72L500.47 872.88" stroke="#111" stroke-width="1.39" fill="none"/>
<path d="M538.2 830.1V824.9H560.1V830.1" stroke="#111" stroke-width="1.5" fill="none"/>
<path d="M542.6 814.75L542.6 821.05M539.87 816.32L545.33 819.48M545.33 816.32L539.87 819.48M549.6 814.75L549.6 821.05M546.87 816.32L552.33 819.48M552.33 816.32L546.87 819.48M556.6 814.75L556.6 821.05M553.87 816.32L559.33 819.48M559.33 816.32L553.87 819.48" stroke="#111" stroke-width="1.39" fill="none"/>
<text x="500.9" y="935" font-size="8.7" text-anchor="middle" class="s" fill="#1c1c1c">10</text>
<text x="550.5" y="935" font-size="8.7" text-anchor="middle" class="s" fill="#1c1c1c">100</text>
<text x="528.9" y="945.8" font-size="8" text-anchor="middle" textLength="57.3" lengthAdjust="spacingAndGlyphs" class="s" fill="#1c1c1c">+Dual agonists</text>
<line x1="497.9" y1="950.7" x2="560.1" y2="950.7" stroke="#111" stroke-width="1.6"/>
<circle cx="578.4" cy="833.6" r="1.5"/>
<text x="583" y="836.8" font-size="9" class="s" fill="#1c1c1c">T1D</text>
<rect x="577" y="843.6" width="2.8" height="2.8"/>
<text x="583" y="848.2" font-size="9" textLength="77" lengthAdjust="spacingAndGlyphs" class="s" fill="#1c1c1c">Control participants</text>
<text x="443.2" y="815" font-size="23.5" font-weight="bold" fill="#000">h</text>
<line x1="31.5" y1="1300.7" x2="31.5" y2="1390.15" stroke="#111" stroke-width="1.3"/>
<line x1="30.85" y1="1389.5" x2="120.4" y2="1389.5" stroke="#111" stroke-width="1.3"/>
<line x1="27.9" y1="1389.5" x2="32.15" y2="1389.5" stroke="#111" stroke-width="1.3"/>
<text x="26.9" y="1392.13" font-size="7.4" text-anchor="end" class="s" fill="#1c1c1c">0</text>
<line x1="27.9" y1="1345.1" x2="32.15" y2="1345.1" stroke="#111" stroke-width="1.3"/>
<text x="26.9" y="1347.73" font-size="7.4" text-anchor="end" class="s" fill="#1c1c1c">50</text>
<line x1="27.9" y1="1300.7" x2="32.15" y2="1300.7" stroke="#111" stroke-width="1.3"/>
<text x="26.9" y="1303.33" font-size="7.4" text-anchor="end" class="s" fill="#1c1c1c">100</text>
<text transform="translate(6.5,1343.9) rotate(-90)" font-size="8" text-anchor="middle" textLength="53" lengthAdjust="spacingAndGlyphs" class="s" fill="#1c1c1c">Reduction (%)</text>
<line x1="52.9" y1="1389.5" x2="52.9" y2="1392.7" stroke="#111" stroke-width="1.3"/>
<line x1="100" y1="1389.5" x2="100" y2="1392.7" stroke="#111" stroke-width="1.3"/>
<rect x="38" y="1374.6" width="10.3" height="14.45" fill="#5b5b5b"/>
<path d="M38 1389.2V1374.6H48.3V1389.2" fill="none" stroke="#111" stroke-width="1.3"/>
<rect x="56.3" y="1357.8" width="9.7" height="31.25" fill="#e9e9e9"/>
<path d="M56.3 1389.2V1357.8H66V1389.2" fill="none" stroke="#111" stroke-width="1.3"/>
<rect x="86" y="1370.6" width="10.1" height="18.45" fill="#5b5b5b"/>
<path d="M86 1389.2V1370.6H96.1V1389.2" fill="none" stroke="#111" stroke-width="1.3"/>
<rect x="104.2" y="1356.7" width="9.8" height="32.35" fill="#e9e9e9"/>
<path d="M104.2 1389.2V1356.7H114V1389.2" fill="none" stroke="#111" stroke-width="1.3"/>
<path d="M43.15 1389V1337.1M40.65 1337.1H45.65M40.65 1389H45.65" stroke="#8c8c8c" stroke-width="0.95" fill="none"/>
<path d="M61.15 1385.1V1328.4M58.65 1328.4H63.65M58.65 1385.1H63.65" stroke="#777777" stroke-width="0.95" fill="none"/>
<path d="M91.05 1389V1333.3M88.55 1333.3H93.55M88.55 1389H93.55" stroke="#8c8c8c" stroke-width="0.95" fill="none"/>
<path d="M109.1 1379.3V1332.7M106.6 1332.7H111.6M106.6 1379.3H111.6" stroke="#777777" stroke-width="0.95" fill="none"/>
<circle cx="40.85" cy="1325.4" r="1.45"/>
<circle cx="45.55" cy="1325.4" r="1.45"/>
<circle cx="43.15" cy="1344.3" r="1.45"/>
<circle cx="38.45" cy="1354.7" r="1.45"/>
<circle cx="43.15" cy="1357.3" r="1.45"/>
<circle cx="47.95" cy="1356.8" r="1.45"/>
<circle cx="40.85" cy="1361.8" r="1.45"/>
<circle cx="45.45" cy="1361.8" r="1.45"/>
<circle cx="43.15" cy="1367.9" r="1.45"/>
<circle cx="47.95" cy="1368.9" r="1.45"/>
<circle cx="38.45" cy="1372.5" r="1.45"/>
<circle cx="43.15" cy="1372.5" r="1.45"/>
<circle cx="47.95" cy="1372.5" r="1.45"/>
<rect x="59.7" y="1332.55" width="2.9" height="2.9"/>
<rect x="56.8" y="1335.95" width="2.9" height="2.9"/>
<rect x="62.5" y="1335.65" width="2.9" height="2.9"/>
<rect x="59.7" y="1347.35" width="2.9" height="2.9"/>
<rect x="59.7" y="1381.95" width="2.9" height="2.9"/>
<circle cx="88.45" cy="1323.3" r="1.45"/>
<circle cx="93.05" cy="1322.5" r="1.45"/>
<circle cx="91.05" cy="1346.3" r="1.45"/>
<circle cx="88.65" cy="1349.9" r="1.45"/>
<circle cx="93.25" cy="1349.9" r="1.45"/>
<circle cx="88.65" cy="1359.9" r="1.45"/>
<circle cx="93.25" cy="1358.8" r="1.45"/>
<circle cx="91.05" cy="1364.2" r="1.45"/>
<circle cx="91.05" cy="1376.9" r="1.45"/>
<circle cx="91.05" cy="1380" r="1.45"/>
<circle cx="86.15" cy="1381" r="1.45"/>
<circle cx="95.15" cy="1382" r="1.45"/>
<circle cx="88.65" cy="1386.8" r="1.45"/>
<circle cx="93.25" cy="1386.8" r="1.45"/>
<rect x="107.65" y="1332.55" width="2.9" height="2.9"/>
<rect x="107.65" y="1341.75" width="2.9" height="2.9"/>
<rect x="107.65" y="1346.85" width="2.9" height="2.9"/>
<rect x="107.65" y="1351.45" width="2.9" height="2.9"/>
<rect x="107.65" y="1356.05" width="2.9" height="2.9"/>
<text x="52.9" y="1403.2" font-size="8.3" text-anchor="middle" class="s" fill="#1c1c1c">10</text>
<text x="100" y="1403.2" font-size="8.3" text-anchor="middle" class="s" fill="#1c1c1c">100</text>
<text x="74.4" y="1413.2" font-size="8" text-anchor="middle" textLength="73.9" lengthAdjust="spacingAndGlyphs" class="s" fill="#1c1c1c">+20 µmol/l SFLLRN</text>
<line x1="45.6" y1="1416.9" x2="105.8" y2="1416.9" stroke="#111" stroke-width="1.6"/>
<circle cx="124.9" cy="1301.4" r="1.5"/>
<text x="131.6" y="1304.7" font-size="9" class="s" fill="#1c1c1c">T1D</text>
<rect x="123.5" y="1311.4" width="2.8" height="2.8"/>
<text x="131.6" y="1316.1" font-size="9" textLength="77" lengthAdjust="spacingAndGlyphs" class="s" fill="#1c1c1c">Control participants</text>
<text x="-0.6" y="1296.5" font-size="24.5" font-weight="bold" fill="#000">j</text>
<line x1="267.3" y1="1302.5" x2="267.3" y2="1391.95" stroke="#111" stroke-width="1.3"/>
<line x1="266.65" y1="1391.3" x2="356.5" y2="1391.3" stroke="#111" stroke-width="1.3"/>
<line x1="263.7" y1="1391.3" x2="267.95" y2="1391.3" stroke="#111" stroke-width="1.3"/>
<text x="262.7" y="1394" font-size="7.6" text-anchor="end" class="s" fill="#1c1c1c">0</text>
<line x1="263.7" y1="1351.05" x2="267.95" y2="1351.05" stroke="#111" stroke-width="1.3"/>
<text x="262.7" y="1353.75" font-size="7.6" text-anchor="end" class="s" fill="#1c1c1c">50</text>
<line x1="263.7" y1="1310.8" x2="267.95" y2="1310.8" stroke="#111" stroke-width="1.3"/>
<text x="262.7" y="1313.5" font-size="7.6" text-anchor="end" class="s" fill="#1c1c1c">100</text>
<text transform="translate(242.5,1345) rotate(-90)" font-size="8" text-anchor="middle" textLength="53.6" lengthAdjust="spacingAndGlyphs" class="s" fill="#1c1c1c">Reduction (%)</text>
<line x1="287.3" y1="1391.3" x2="287.3" y2="1394.5" stroke="#111" stroke-width="1.3"/>
<line x1="335.5" y1="1391.3" x2="335.5" y2="1394.5" stroke="#111" stroke-width="1.3"/>
<rect x="274.8" y="1347.8" width="9.8" height="43.05" fill="#5b5b5b"/>
<path d="M274.8 1391V1347.8H284.6V1391" fill="none" stroke="#111" stroke-width="1.3"/>
<rect x="291.9" y="1359.7" width="10.2" height="31.15" fill="#e9e9e9"/>
<path d="M291.9 1391V1359.7H302.1V1391" fill="none" stroke="#111" stroke-width="1.3"/>
<rect x="322.1" y="1335.9" width="10.2" height="54.95" fill="#5b5b5b"/>
<path d="M322.1 1391V1335.9H332.3V1391" fill="none" stroke="#111" stroke-width="1.3"/>
<rect x="340.5" y="1322.7" width="9.6" height="68.15" fill="#e9e9e9"/>
<path d="M340.5 1391V1322.7H350.1V1391" fill="none" stroke="#111" stroke-width="1.3"/>
<path d="M279.7 1369.6V1324.5M277.2 1324.5H282.2M277.2 1369.6H282.2" stroke="#8c8c8c" stroke-width="0.95" fill="none"/>
<path d="M297 1368.4V1350.2M294.5 1350.2H299.5M294.5 1368.4H299.5" stroke="#777777" stroke-width="0.95" fill="none"/>
<path d="M327.2 1358.3V1311M324.7 1311H329.7M324.7 1358.3H329.7" stroke="#8c8c8c" stroke-width="0.95" fill="none"/>
<path d="M345.3 1326.3V1318M342.8 1318H347.8M342.8 1326.3H347.8" stroke="#777777" stroke-width="0.95" fill="none"/>
<circle cx="275" cy="1317.2" r="1.45"/>
<circle cx="279.7" cy="1317.4" r="1.45"/>
<circle cx="284.6" cy="1317.2" r="1.45"/>
<circle cx="282.2" cy="1319.8" r="1.45"/>
<circle cx="277.6" cy="1322.3" r="1.45"/>
<circle cx="279.7" cy="1325.4" r="1.45"/>
<circle cx="277.6" cy="1330" r="1.45"/>
<circle cx="282.2" cy="1330.5" r="1.45"/>
<circle cx="279.7" cy="1333.4" r="1.45"/>
<circle cx="279.7" cy="1337.4" r="1.45"/>
<circle cx="279.7" cy="1343" r="1.45"/>
<circle cx="277.6" cy="1354.7" r="1.45"/>
<circle cx="282.2" cy="1354.7" r="1.45"/>
<circle cx="275" cy="1359" r="1.45"/>
<circle cx="279.7" cy="1358.7" r="1.45"/>
<circle cx="284.6" cy="1359.4" r="1.45"/>
<circle cx="279.7" cy="1361.9" r="1.45"/>
<circle cx="279.7" cy="1372.8" r="1.45"/>
<circle cx="284.6" cy="1370.5" r="1.45"/>
<circle cx="279.7" cy="1378.8" r="1.45"/>
<circle cx="284.6" cy="1378.8" r="1.45"/>
<circle cx="279.7" cy="1386.5" r="1.45"/>
<rect x="292.85" y="1348.95" width="2.9" height="2.9"/>
<rect x="298.25" y="1350.05" width="2.9" height="2.9"/>
<rect x="295.55" y="1354.15" width="2.9" height="2.9"/>
<rect x="295.55" y="1363.45" width="2.9" height="2.9"/>
<rect x="295.55" y="1370.25" width="2.9" height="2.9"/>
<circle cx="328.5" cy="1313.7" r="1.45"/>
<circle cx="331.8" cy="1313.1" r="1.45"/>
<circle cx="325.8" cy="1315.3" r="1.45"/>
<circle cx="323" cy="1320.3" r="1.45"/>
<circle cx="327.2" cy="1319.2" r="1.45"/>
<circle cx="330.6" cy="1319.7" r="1.45"/>
<circle cx="325.8" cy="1322.4" r="1.45"/>
<circle cx="328.5" cy="1322.8" r="1.45"/>
<circle cx="331.8" cy="1323.2" r="1.45"/>
<circle cx="325.8" cy="1325.7" r="1.45"/>
<circle cx="328.5" cy="1325.7" r="1.45"/>
<circle cx="323" cy="1328.2" r="1.45"/>
<circle cx="325.8" cy="1329.3" r="1.45"/>
<circle cx="323" cy="1331.2" r="1.45"/>
<circle cx="331.8" cy="1330.9" r="1.45"/>
<circle cx="325.8" cy="1342.9" r="1.45"/>
<circle cx="328.5" cy="1345.1" r="1.45"/>
<circle cx="325.8" cy="1353.9" r="1.45"/>
<circle cx="328.5" cy="1354.4" r="1.45"/>
<circle cx="327.2" cy="1387.6" r="1.45"/>
<rect x="341.15" y="1316.05" width="2.9" height="2.9"/>
<rect x="346.55" y="1317.15" width="2.9" height="2.9"/>
<rect x="341.15" y="1319.35" width="2.9" height="2.9"/>
<rect x="346.55" y="1320.95" width="2.9" height="2.9"/>
<rect x="343.85" y="1327.85" width="2.9" height="2.9"/>
<path d="M278.9 1308.3V1302.5H296.9V1308.3" stroke="#111" stroke-width="1.5" fill="none"/>
<path d="M287.3 1292.75L287.3 1299.05M284.57 1294.33L290.03 1297.48M290.03 1294.33L284.57 1297.48" stroke="#111" stroke-width="1.39" fill="none"/>
<path d="M327.2 1308.3V1302.5H345.5V1308.3" stroke="#111" stroke-width="1.5" fill="none"/>
<path d="M336 1292.75L336 1299.05M333.27 1294.33L338.73 1297.48M338.73 1294.33L333.27 1297.48" stroke="#111" stroke-width="1.39" fill="none"/>
<text x="287.3" y="1405.9" font-size="8.8" text-anchor="middle" class="s" fill="#1c1c1c">10</text>
<text x="335.5" y="1405.9" font-size="8.8" text-anchor="middle" class="s" fill="#1c1c1c">100</text>
<text x="314.5" y="1412.9" font-size="8" text-anchor="middle" textLength="70.1" lengthAdjust="spacingAndGlyphs" class="s" fill="#1c1c1c">+10 µg/ml CRP-XL</text>
<line x1="275" y1="1418.1" x2="353.9" y2="1418.1" stroke="#111" stroke-width="1.6"/>
<circle cx="364.4" cy="1306" r="1.5"/>
<text x="370.7" y="1309.2" font-size="9" class="s" fill="#1c1c1c">T1D</text>
<rect x="363" y="1316.1" width="2.8" height="2.8"/>
<text x="370.7" y="1320.7" font-size="9" textLength="77" lengthAdjust="spacingAndGlyphs" class="s" fill="#1c1c1c">Control participants</text>
<text x="233.6" y="1297.3" font-size="24.5" font-weight="bold" fill="#000">k</text>
<line x1="499.6" y1="1298.7" x2="499.6" y2="1389.55" stroke="#111" stroke-width="1.3"/>
<line x1="498.95" y1="1388.9" x2="590" y2="1388.9" stroke="#111" stroke-width="1.3"/>
<line x1="496" y1="1388.9" x2="500.25" y2="1388.9" stroke="#111" stroke-width="1.3"/>
<text x="495" y="1391.74" font-size="8" text-anchor="end" class="s" fill="#1c1c1c">0</text>
<line x1="496" y1="1347.7" x2="500.25" y2="1347.7" stroke="#111" stroke-width="1.3"/>
<text x="495" y="1350.54" font-size="8" text-anchor="end" class="s" fill="#1c1c1c">50</text>
<line x1="496" y1="1306.5" x2="500.25" y2="1306.5" stroke="#111" stroke-width="1.3"/>
<text x="495" y="1309.34" font-size="8" text-anchor="end" class="s" fill="#1c1c1c">100</text>
<text transform="translate(474,1342.8) rotate(-90)" font-size="8" text-anchor="middle" textLength="54" lengthAdjust="spacingAndGlyphs" class="s" fill="#1c1c1c">Reduction (%)</text>
<line x1="520.6" y1="1388.9" x2="520.6" y2="1392.1" stroke="#111" stroke-width="1.3"/>
<line x1="569" y1="1388.9" x2="569" y2="1392.1" stroke="#111" stroke-width="1.3"/>
<rect x="506.9" y="1353.9" width="10.2" height="34.55" fill="#5b5b5b"/>
<path d="M506.9 1388.6V1353.9H517.1V1388.6" fill="none" stroke="#111" stroke-width="1.3"/>
<rect x="524.7" y="1346" width="10.4" height="42.45" fill="#e9e9e9"/>
<path d="M524.7 1388.6V1346H535.1V1388.6" fill="none" stroke="#111" stroke-width="1.3"/>
<rect x="555.1" y="1322.9" width="10.1" height="65.55" fill="#5b5b5b"/>
<path d="M555.1 1388.6V1322.9H565.2V1388.6" fill="none" stroke="#111" stroke-width="1.3"/>
<rect x="573.1" y="1314.9" width="10" height="73.55" fill="#e9e9e9"/>
<path d="M573.1 1388.6V1314.9H583.1V1388.6" fill="none" stroke="#111" stroke-width="1.3"/>
<path d="M512 1370.8V1333.7M509.5 1333.7H514.5M509.5 1370.8H514.5" stroke="#8c8c8c" stroke-width="0.95" fill="none"/>
<path d="M529.9 1352.1V1338M527.4 1338H532.4M527.4 1352.1H532.4" stroke="#777777" stroke-width="0.95" fill="none"/>
<path d="M560.15 1332.9V1313.8M557.65 1313.8H562.65M557.65 1332.9H562.65" stroke="#8c8c8c" stroke-width="0.95" fill="none"/>
<path d="M578.1 1317.4V1311M575.6 1311H580.6M575.6 1317.4H580.6" stroke="#777777" stroke-width="0.95" fill="none"/>
<circle cx="512" cy="1318.2" r="1.45"/>
<circle cx="510.2" cy="1323.5" r="1.45"/>
<circle cx="513.4" cy="1323.5" r="1.45"/>
<circle cx="510.2" cy="1329.2" r="1.45"/>
<circle cx="513.4" cy="1328.5" r="1.45"/>
<circle cx="512" cy="1332.7" r="1.45"/>
<circle cx="507.4" cy="1342.5" r="1.45"/>
<circle cx="510.2" cy="1343.6" r="1.45"/>
<circle cx="516.7" cy="1344" r="1.45"/>
<circle cx="513.4" cy="1346" r="1.45"/>
<circle cx="510.2" cy="1354.5" r="1.45"/>
<circle cx="513.4" cy="1354.5" r="1.45"/>
<circle cx="510.2" cy="1358.7" r="1.45"/>
<circle cx="513.4" cy="1358.7" r="1.45"/>
<circle cx="516.7" cy="1357.6" r="1.45"/>
<circle cx="512" cy="1361" r="1.45"/>
<circle cx="510.2" cy="1362.8" r="1.45"/>
<circle cx="512" cy="1364" r="1.45"/>
<circle cx="512" cy="1369.6" r="1.45"/>
<circle cx="510.2" cy="1371.1" r="1.45"/>
<circle cx="512" cy="1377.7" r="1.45"/>
<circle cx="510.2" cy="1379.5" r="1.45"/>
<circle cx="513.4" cy="1379.5" r="1.45"/>
<circle cx="510.2" cy="1383.5" r="1.45"/>
<circle cx="513.4" cy="1381.6" r="1.45"/>
<rect x="528.45" y="1331.45" width="2.9" height="2.9"/>
<rect x="528.45" y="1343.05" width="2.9" height="2.9"/>
<rect x="525.85" y="1346.05" width="2.9" height="2.9"/>
<rect x="531.45" y="1348.45" width="2.9" height="2.9"/>
<rect x="528.45" y="1349.65" width="2.9" height="2.9"/>
<circle cx="558.45" cy="1312.1" r="1.45"/>
<circle cx="561.55" cy="1311.3" r="1.45"/>
<circle cx="560.45" cy="1314.3" r="1.45"/>
<circle cx="555.95" cy="1315.8" r="1.45"/>
<circle cx="555.75" cy="1315.1" r="1.45"/>
<circle cx="556.05" cy="1311.5" r="1.45"/>
<circle cx="559.45" cy="1319.2" r="1.45"/>
<circle cx="556.55" cy="1312.8" r="1.45"/>
<circle cx="561.35" cy="1320.5" r="1.45"/>
<circle cx="560.85" cy="1314.7" r="1.45"/>
<circle cx="564.75" cy="1311" r="1.45"/>
<circle cx="563.55" cy="1313.5" r="1.45"/>
<circle cx="556.75" cy="1311.7" r="1.45"/>
<circle cx="558.35" cy="1319.1" r="1.45"/>
<circle cx="557.05" cy="1316.6" r="1.45"/>
<circle cx="561.45" cy="1314.4" r="1.45"/>
<circle cx="560.65" cy="1311.2" r="1.45"/>
<circle cx="555.95" cy="1312.7" r="1.45"/>
<circle cx="561.85" cy="1315" r="1.45"/>
<circle cx="558.35" cy="1316.6" r="1.45"/>
<circle cx="560.15" cy="1324.5" r="1.45"/>
<circle cx="560.15" cy="1328.6" r="1.45"/>
<circle cx="560.15" cy="1330.7" r="1.45"/>
<circle cx="560.15" cy="1334.7" r="1.45"/>
<circle cx="560.15" cy="1341.4" r="1.45"/>
<circle cx="560.15" cy="1351.1" r="1.45"/>
<rect x="576.65" y="1309.25" width="2.9" height="2.9"/>
<rect x="572.05" y="1313.35" width="2.9" height="2.9"/>
<rect x="581.25" y="1313.55" width="2.9" height="2.9"/>
<rect x="576.65" y="1314.85" width="2.9" height="2.9"/>
<rect x="576.65" y="1318.95" width="2.9" height="2.9"/>
<path d="M556.2 1305.1V1300.4H577.2V1305.1" stroke="#111" stroke-width="1.5" fill="none"/>
<path d="M567.1 1290.65L567.1 1296.95M564.37 1292.22L569.83 1295.38M569.83 1292.22L564.37 1295.38" stroke="#111" stroke-width="1.39" fill="none"/>
<text x="520.6" y="1402.4" font-size="8.5" text-anchor="middle" class="s" fill="#1c1c1c">10</text>
<text x="569" y="1402.4" font-size="8.5" text-anchor="middle" class="s" fill="#1c1c1c">100</text>
<text x="546" y="1412" font-size="8" text-anchor="middle" textLength="56.6" lengthAdjust="spacingAndGlyphs" class="s" fill="#1c1c1c">+Dual agonists</text>
<line x1="515.9" y1="1417.8" x2="576.4" y2="1417.8" stroke="#111" stroke-width="1.6"/>
<circle cx="600.6" cy="1304.9" r="1.5"/>
<text x="607.8" y="1308.1" font-size="9" class="s" fill="#1c1c1c">T1D</text>
<rect x="599.2" y="1315" width="2.8" height="2.8"/>
<text x="607.8" y="1319.6" font-size="9" textLength="77" lengthAdjust="spacingAndGlyphs" class="s" fill="#1c1c1c">Control participants</text>
<text x="467" y="1295.3" font-size="22" font-weight="bold" fill="#000">l</text>
</svg></body></html>
